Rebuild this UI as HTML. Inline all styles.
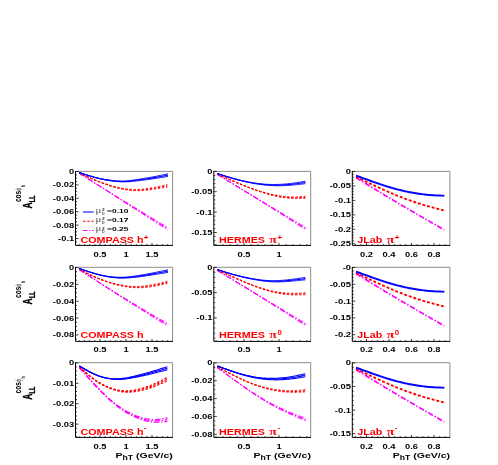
<!DOCTYPE html>
<html lang="en">
<head>
<meta charset="utf-8">
<title>A_LL cos(phi_h) asymmetry vs P_hT</title>
<style>
html,body{margin:0;padding:0;background:#fff;}
body{width:498px;height:465px;overflow:hidden;}
svg{display:block;filter:blur(0.3px);}
</style>
</head>
<body>
<svg width="498" height="465" viewBox="0 0 498 465" font-family='"Liberation Sans", Arial, Helvetica, sans-serif' font-weight="bold">
<rect width="498" height="465" fill="#fff"/>
<g>
<g fill="none" stroke="#ff00ff" stroke-width="1.1" stroke-dasharray="5.5 1.8 1.4 1.8" stroke-linejoin="round">
<path d="M79.02 173.02 L80.52 173.97 L82.02 174.92 L83.53 175.87 L85.03 176.82 L86.54 177.76 L88.04 178.71 L89.55 179.65 L91.05 180.6 L92.55 181.54 L94.06 182.48 L95.56 183.42 L97.07 184.35 L98.57 185.29 L100.08 186.23 L101.58 187.16 L103.09 188.1 L104.59 189.03 L106.09 189.96 L107.6 190.9 L109.1 191.83 L110.61 192.76 L112.11 193.69 L113.62 194.61 L115.12 195.54 L116.62 196.47 L118.13 197.39 L119.63 198.32 L121.14 199.24 L122.64 200.17 L124.15 201.09 L125.65 202.01 L127.15 202.93 L128.66 203.85 L130.16 204.77 L131.67 205.69 L133.17 206.61 L134.68 207.53 L136.18 208.45 L137.68 209.36 L139.19 210.28 L140.69 211.19 L142.2 212.11 L143.7 213.02 L145.21 213.93 L146.71 214.85 L148.21 215.76 L149.72 216.67 L151.22 217.58 L152.73 218.49 L154.23 219.4 L155.74 220.3 L157.24 221.21 L158.75 222.12 L160.25 223.02 L161.75 223.93 L163.26 224.83 L164.76 225.74 L166.27 226.64 L167.77 227.54" stroke-width="0.94"/>
<path d="M79.02 173.02 L80.52 173.97 L82.02 174.93 L83.53 175.88 L85.03 176.84 L86.54 177.79 L88.04 178.74 L89.55 179.7 L91.05 180.65 L92.55 181.6 L94.06 182.55 L95.56 183.5 L97.07 184.46 L98.57 185.41 L100.08 186.36 L101.58 187.31 L103.09 188.26 L104.59 189.21 L106.09 190.16 L107.6 191.11 L109.1 192.06 L110.61 193.01 L112.11 193.95 L113.62 194.9 L115.12 195.85 L116.62 196.8 L118.13 197.74 L119.63 198.69 L121.14 199.64 L122.64 200.58 L124.15 201.53 L125.65 202.48 L127.15 203.42 L128.66 204.37 L130.16 205.31 L131.67 206.26 L133.17 207.2 L134.68 208.15 L136.18 209.09 L137.68 210.03 L139.19 210.98 L140.69 211.92 L142.2 212.86 L143.7 213.8 L145.21 214.75 L146.71 215.69 L148.21 216.63 L149.72 217.57 L151.22 218.51 L152.73 219.45 L154.23 220.39 L155.74 221.33 L157.24 222.27 L158.75 223.21 L160.25 224.15 L161.75 225.09 L163.26 226.03 L164.76 226.97 L166.27 227.91 L167.77 228.84" stroke-width="1.1"/>
<path d="M79.02 173.02 L80.52 173.98 L82.02 174.93 L83.53 175.89 L85.03 176.85 L86.54 177.82 L88.04 178.78 L89.55 179.74 L91.05 180.7 L92.55 181.66 L94.06 182.63 L95.56 183.59 L97.07 184.56 L98.57 185.52 L100.08 186.49 L101.58 187.45 L103.09 188.42 L104.59 189.39 L106.09 190.35 L107.6 191.32 L109.1 192.29 L110.61 193.25 L112.11 194.22 L113.62 195.19 L115.12 196.16 L116.62 197.13 L118.13 198.1 L119.63 199.06 L121.14 200.03 L122.64 201 L124.15 201.97 L125.65 202.94 L127.15 203.91 L128.66 204.88 L130.16 205.85 L131.67 206.82 L133.17 207.79 L134.68 208.76 L136.18 209.73 L137.68 210.7 L139.19 211.67 L140.69 212.65 L142.2 213.62 L143.7 214.59 L145.21 215.56 L146.71 216.53 L148.21 217.5 L149.72 218.47 L151.22 219.45 L152.73 220.42 L154.23 221.39 L155.74 222.36 L157.24 223.34 L158.75 224.31 L160.25 225.28 L161.75 226.25 L163.26 227.23 L164.76 228.2 L166.27 229.17 L167.77 230.14" stroke-width="0.94"/>
</g>
<g fill="none" stroke="#ff0000" stroke-width="1.1" stroke-dasharray="2.4 1.7" stroke-linejoin="round">
<path d="M79.02 173.02 L80.51 173.69 L82.01 174.36 L83.51 175.03 L85.01 175.69 L86.5 176.34 L88 176.99 L89.5 177.64 L91 178.28 L92.49 178.91 L93.99 179.53 L95.49 180.13 L96.99 180.73 L98.48 181.32 L99.98 181.89 L101.48 182.46 L102.98 183 L104.47 183.53 L105.97 184.05 L107.47 184.54 L108.97 185.02 L110.46 185.48 L111.96 185.92 L113.46 186.34 L114.96 186.74 L116.45 187.11 L117.95 187.46 L119.45 187.79 L120.95 188.09 L122.44 188.36 L123.94 188.61 L125.44 188.83 L126.94 189.02 L128.43 189.18 L129.93 189.31 L131.43 189.41 L132.93 189.47 L134.42 189.5 L135.92 189.5 L137.42 189.46 L138.92 189.39 L140.41 189.29 L141.91 189.17 L143.41 189.01 L144.91 188.84 L146.4 188.64 L147.9 188.42 L149.4 188.19 L150.9 187.94 L152.39 187.68 L153.89 187.4 L155.39 187.12 L156.89 186.83 L158.38 186.53 L159.88 186.23 L161.38 185.92 L162.88 185.61 L164.37 185.3 L165.87 184.99 L167.37 184.67" stroke-width="0.88"/>
<path d="M79.02 173.02 L80.51 173.69 L82.01 174.37 L83.51 175.04 L85.01 175.7 L86.5 176.37 L88 177.03 L89.5 177.68 L91 178.33 L92.49 178.96 L93.99 179.6 L95.49 180.22 L96.99 180.83 L98.48 181.43 L99.98 182.01 L101.48 182.59 L102.98 183.15 L104.47 183.7 L105.97 184.23 L107.47 184.74 L108.97 185.23 L110.46 185.71 L111.96 186.17 L113.46 186.61 L114.96 187.02 L116.45 187.41 L117.95 187.79 L119.45 188.13 L120.95 188.45 L122.44 188.75 L123.94 189.02 L125.44 189.26 L126.94 189.47 L128.43 189.65 L129.93 189.81 L131.43 189.93 L132.93 190.02 L134.42 190.07 L135.92 190.09 L137.42 190.08 L138.92 190.04 L140.41 189.96 L141.91 189.86 L143.41 189.74 L144.91 189.59 L146.4 189.42 L147.9 189.23 L149.4 189.02 L150.9 188.8 L152.39 188.57 L153.89 188.32 L155.39 188.07 L156.89 187.81 L158.38 187.54 L159.88 187.27 L161.38 187 L162.88 186.72 L164.37 186.44 L165.87 186.15 L167.37 185.87" stroke-width="1.1"/>
<path d="M79.02 173.02 L80.51 173.69 L82.01 174.37 L83.51 175.05 L85.01 175.72 L86.5 176.39 L88 177.06 L89.5 177.72 L91 178.37 L92.49 179.02 L93.99 179.67 L95.49 180.3 L96.99 180.92 L98.48 181.53 L99.98 182.14 L101.48 182.72 L102.98 183.3 L104.47 183.86 L105.97 184.41 L107.47 184.93 L108.97 185.45 L110.46 185.94 L111.96 186.42 L113.46 186.87 L114.96 187.31 L116.45 187.72 L117.95 188.11 L119.45 188.48 L120.95 188.82 L122.44 189.13 L123.94 189.42 L125.44 189.69 L126.94 189.92 L128.43 190.13 L129.93 190.3 L131.43 190.45 L132.93 190.56 L134.42 190.64 L135.92 190.69 L137.42 190.7 L138.92 190.68 L140.41 190.64 L141.91 190.56 L143.41 190.46 L144.91 190.34 L146.4 190.2 L147.9 190.03 L149.4 189.86 L150.9 189.66 L152.39 189.46 L153.89 189.24 L155.39 189.02 L156.89 188.79 L158.38 188.55 L159.88 188.31 L161.38 188.07 L162.88 187.82 L164.37 187.57 L165.87 187.32 L167.37 187.07" stroke-width="0.88"/>
</g>
<g fill="none" stroke="#0000ff" stroke-width="1.1" stroke-linejoin="round">
<path d="M79.02 172.42 L80.52 172.92 L82.03 173.42 L83.54 173.92 L85.05 174.41 L86.55 174.89 L88.06 175.36 L89.57 175.81 L91.08 176.26 L92.59 176.68 L94.09 177.1 L95.6 177.49 L97.11 177.86 L98.62 178.21 L100.12 178.54 L101.63 178.85 L103.14 179.14 L104.65 179.41 L106.16 179.66 L107.66 179.89 L109.17 180.1 L110.68 180.29 L112.19 180.46 L113.69 180.62 L115.2 180.75 L116.71 180.86 L118.22 180.95 L119.72 181.01 L121.23 181.04 L122.74 181.04 L124.25 181 L125.76 180.91 L127.26 180.8 L128.77 180.66 L130.28 180.49 L131.79 180.3 L133.29 180.1 L134.8 179.89 L136.31 179.67 L137.82 179.44 L139.33 179.21 L140.83 178.98 L142.34 178.73 L143.85 178.49 L145.36 178.23 L146.86 177.97 L148.37 177.71 L149.88 177.44 L151.39 177.17 L152.89 176.88 L154.4 176.6 L155.91 176.31 L157.42 176.01 L158.93 175.71 L160.43 175.4 L161.94 175.09 L163.45 174.78 L164.96 174.46 L166.46 174.15 L167.97 173.83" stroke-width="0.94"/>
<path d="M79.02 172.42 L80.52 172.92 L82.03 173.43 L83.54 173.93 L85.05 174.42 L86.55 174.91 L88.06 175.39 L89.57 175.86 L91.08 176.31 L92.59 176.75 L94.09 177.17 L95.6 177.58 L97.11 177.96 L98.62 178.32 L100.12 178.67 L101.63 178.99 L103.14 179.3 L104.65 179.59 L106.16 179.85 L107.66 180.1 L109.17 180.33 L110.68 180.54 L112.19 180.73 L113.69 180.9 L115.2 181.06 L116.71 181.19 L118.22 181.3 L119.72 181.38 L121.23 181.44 L122.74 181.46 L124.25 181.44 L125.76 181.38 L127.26 181.29 L128.77 181.17 L130.28 181.03 L131.79 180.87 L133.29 180.69 L134.8 180.51 L136.31 180.31 L137.82 180.11 L139.33 179.91 L140.83 179.7 L142.34 179.49 L143.85 179.27 L145.36 179.05 L146.86 178.82 L148.37 178.58 L149.88 178.34 L151.39 178.1 L152.89 177.85 L154.4 177.6 L155.91 177.34 L157.42 177.07 L158.93 176.8 L160.43 176.53 L161.94 176.25 L163.45 175.97 L164.96 175.69 L166.46 175.41 L167.97 175.13" stroke-width="1.1"/>
<path d="M79.02 172.42 L80.52 172.93 L82.03 173.43 L83.54 173.94 L85.05 174.44 L86.55 174.94 L88.06 175.42 L89.57 175.9 L91.08 176.36 L92.59 176.81 L94.09 177.25 L95.6 177.66 L97.11 178.06 L98.62 178.44 L100.12 178.8 L101.63 179.14 L103.14 179.46 L104.65 179.76 L106.16 180.05 L107.66 180.31 L109.17 180.56 L110.68 180.79 L112.19 181 L113.69 181.19 L115.2 181.36 L116.71 181.52 L118.22 181.65 L119.72 181.76 L121.23 181.83 L122.74 181.87 L124.25 181.88 L125.76 181.84 L127.26 181.78 L128.77 181.68 L130.28 181.57 L131.79 181.43 L133.29 181.28 L134.8 181.12 L136.31 180.96 L137.82 180.78 L139.33 180.61 L140.83 180.43 L142.34 180.24 L143.85 180.05 L145.36 179.86 L146.86 179.66 L148.37 179.46 L149.88 179.25 L151.39 179.03 L152.89 178.82 L154.4 178.59 L155.91 178.37 L157.42 178.13 L158.93 177.9 L160.43 177.66 L161.94 177.41 L163.45 177.17 L164.96 176.92 L166.46 176.68 L167.97 176.43" stroke-width="0.94"/>
</g>
<path d="M75.5 171.4 H172.6 V245.4" fill="none" stroke="#808080" stroke-width="0.9"/>
<path d="M75.5 171 V245.4 H173" fill="none" stroke="#000" stroke-width="1.0"/>
<path d="M75.5 171.5h3M75.5 174.85h1.5M75.5 178.2h1.5M75.5 181.55h1.5M75.5 184.9h3M75.5 188.25h1.5M75.5 191.6h1.5M75.5 194.95h1.5M75.5 198.3h3M75.5 201.65h1.5M75.5 205h1.5M75.5 208.35h1.5M75.5 211.7h3M75.5 215.05h1.5M75.5 218.4h1.5M75.5 221.75h1.5M75.5 225.1h3M75.5 228.45h1.5M75.5 231.8h1.5M75.5 235.15h1.5M75.5 238.5h3M75.5 241.85h1.5M79.2 245.4v-1.2M84.4 245.4v-1.2M89.6 245.4v-1.2M94.8 245.4v-1.2M100 245.4v-2.4M105.2 245.4v-1.2M110.4 245.4v-1.2M115.6 245.4v-1.2M120.8 245.4v-1.2M126 245.4v-2.4M131.2 245.4v-1.2M136.4 245.4v-1.2M141.6 245.4v-1.2M146.8 245.4v-1.2M152 245.4v-2.4M157.2 245.4v-1.2M162.4 245.4v-1.2M167.6 245.4v-1.2" stroke="#000" stroke-width="0.75" fill="none"/>
<text transform="translate(74.2 174) scale(1.285 1)" font-size="7.3" text-anchor="end" fill="#000">0</text>
<text transform="translate(74.2 187.4) scale(1.285 1)" font-size="7.3" text-anchor="end" fill="#000">-0.02</text>
<text transform="translate(74.2 200.8) scale(1.285 1)" font-size="7.3" text-anchor="end" fill="#000">-0.04</text>
<text transform="translate(74.2 214.2) scale(1.285 1)" font-size="7.3" text-anchor="end" fill="#000">-0.06</text>
<text transform="translate(74.2 227.6) scale(1.285 1)" font-size="7.3" text-anchor="end" fill="#000">-0.08</text>
<text transform="translate(74.2 241) scale(1.285 1)" font-size="7.3" text-anchor="end" fill="#000">-0.1</text>
<text transform="translate(100 256.9) scale(1.285 1)" font-size="7.3" text-anchor="middle" fill="#000">0.5</text>
<text transform="translate(126 256.9) scale(1.285 1)" font-size="7.3" text-anchor="middle" fill="#000">1</text>
<text transform="translate(152 256.9) scale(1.285 1)" font-size="7.3" text-anchor="middle" fill="#000">1.5</text>
<text transform="translate(80.5 242.7) scale(1.25 1)" font-size="8.6" text-anchor="start" fill="#ff0000">COMPASS h<tspan dy="-3.0" dx="0.2" font-size="6.4">+</tspan></text>
</g>
<g>
<g fill="none" stroke="#ff00ff" stroke-width="1.1" stroke-dasharray="5.5 1.8 1.4 1.8" stroke-linejoin="round">
<path d="M217.42 174.43 L218.92 175.33 L220.41 176.24 L221.91 177.14 L223.41 178.05 L224.91 178.95 L226.4 179.85 L227.9 180.76 L229.4 181.66 L230.9 182.56 L232.39 183.46 L233.89 184.36 L235.39 185.27 L236.89 186.17 L238.38 187.07 L239.88 187.97 L241.38 188.87 L242.88 189.77 L244.37 190.67 L245.87 191.57 L247.37 192.47 L248.87 193.37 L250.36 194.27 L251.86 195.17 L253.36 196.07 L254.86 196.97 L256.35 197.87 L257.85 198.77 L259.35 199.67 L260.85 200.57 L262.34 201.47 L263.84 202.36 L265.34 203.26 L266.84 204.16 L268.33 205.06 L269.83 205.96 L271.33 206.86 L272.83 207.76 L274.32 208.66 L275.82 209.56 L277.32 210.46 L278.82 211.36 L280.31 212.25 L281.81 213.15 L283.31 214.05 L284.81 214.95 L286.3 215.85 L287.8 216.75 L289.3 217.65 L290.8 218.55 L292.29 219.45 L293.79 220.35 L295.29 221.25 L296.79 222.15 L298.28 223.05 L299.78 223.94 L301.28 224.84 L302.78 225.74 L304.27 226.64 L305.77 227.54" stroke-width="0.88"/>
<path d="M217.42 174.43 L218.92 175.33 L220.41 176.24 L221.91 177.15 L223.41 178.06 L224.91 178.97 L226.4 179.88 L227.9 180.79 L229.4 181.7 L230.9 182.62 L232.39 183.53 L233.89 184.44 L235.39 185.35 L236.89 186.27 L238.38 187.18 L239.88 188.09 L241.38 189.01 L242.88 189.92 L244.37 190.83 L245.87 191.75 L247.37 192.67 L248.87 193.58 L250.36 194.5 L251.86 195.41 L253.36 196.33 L254.86 197.25 L256.35 198.16 L257.85 199.08 L259.35 200 L260.85 200.92 L262.34 201.84 L263.84 202.76 L265.34 203.68 L266.84 204.6 L268.33 205.52 L269.83 206.44 L271.33 207.36 L272.83 208.28 L274.32 209.2 L275.82 210.12 L277.32 211.05 L278.82 211.97 L280.31 212.89 L281.81 213.82 L283.31 214.74 L284.81 215.67 L286.3 216.59 L287.8 217.51 L289.3 218.44 L290.8 219.37 L292.29 220.29 L293.79 221.22 L295.29 222.15 L296.79 223.07 L298.28 224 L299.78 224.93 L301.28 225.86 L302.78 226.78 L304.27 227.71 L305.77 228.64" stroke-width="1.1"/>
<path d="M217.42 174.43 L218.92 175.34 L220.41 176.25 L221.91 177.16 L223.41 178.08 L224.91 178.99 L226.4 179.91 L227.9 180.83 L229.4 181.75 L230.9 182.67 L232.39 183.59 L233.89 184.51 L235.39 185.44 L236.89 186.36 L238.38 187.29 L239.88 188.21 L241.38 189.14 L242.88 190.07 L244.37 191 L245.87 191.93 L247.37 192.86 L248.87 193.79 L250.36 194.72 L251.86 195.66 L253.36 196.59 L254.86 197.53 L256.35 198.46 L257.85 199.4 L259.35 200.33 L260.85 201.27 L262.34 202.21 L263.84 203.15 L265.34 204.09 L266.84 205.03 L268.33 205.97 L269.83 206.92 L271.33 207.86 L272.83 208.8 L274.32 209.75 L275.82 210.69 L277.32 211.64 L278.82 212.58 L280.31 213.53 L281.81 214.48 L283.31 215.43 L284.81 216.38 L286.3 217.33 L287.8 218.28 L289.3 219.23 L290.8 220.18 L292.29 221.14 L293.79 222.09 L295.29 223.04 L296.79 224 L298.28 224.95 L299.78 225.91 L301.28 226.87 L302.78 227.83 L304.27 228.78 L305.77 229.74" stroke-width="0.88"/>
</g>
<g fill="none" stroke="#ff0000" stroke-width="1.1" stroke-dasharray="2.4 1.7" stroke-linejoin="round">
<path d="M217.42 174.02 L218.91 174.7 L220.4 175.38 L221.89 176.05 L223.38 176.72 L224.87 177.39 L226.36 178.06 L227.85 178.72 L229.34 179.37 L230.83 180.02 L232.32 180.66 L233.82 181.3 L235.31 181.93 L236.8 182.56 L238.29 183.17 L239.78 183.78 L241.27 184.38 L242.76 184.97 L244.25 185.56 L245.74 186.13 L247.23 186.7 L248.72 187.25 L250.21 187.8 L251.7 188.33 L253.19 188.86 L254.69 189.37 L256.18 189.88 L257.67 190.37 L259.16 190.85 L260.65 191.31 L262.14 191.76 L263.63 192.2 L265.12 192.62 L266.61 193.03 L268.1 193.41 L269.59 193.79 L271.08 194.14 L272.57 194.48 L274.06 194.8 L275.56 195.1 L277.05 195.38 L278.54 195.64 L280.03 195.87 L281.52 196.09 L283.01 196.28 L284.5 196.45 L285.99 196.59 L287.48 196.71 L288.97 196.81 L290.46 196.88 L291.95 196.92 L293.44 196.93 L294.93 196.91 L296.43 196.87 L297.92 196.81 L299.41 196.74 L300.9 196.64 L302.39 196.54 L303.88 196.43 L305.37 196.32" stroke-width="0.88"/>
<path d="M217.42 174.02 L218.91 174.7 L220.4 175.38 L221.89 176.06 L223.38 176.74 L224.87 177.41 L226.36 178.08 L227.85 178.75 L229.34 179.41 L230.83 180.07 L232.32 180.72 L233.82 181.37 L235.31 182.01 L236.8 182.65 L238.29 183.27 L239.78 183.89 L241.27 184.51 L242.76 185.11 L244.25 185.71 L245.74 186.3 L247.23 186.87 L248.72 187.44 L250.21 188.01 L251.7 188.56 L253.19 189.1 L254.69 189.63 L256.18 190.15 L257.67 190.65 L259.16 191.15 L260.65 191.63 L262.14 192.1 L263.63 192.55 L265.12 192.99 L266.61 193.42 L268.1 193.83 L269.59 194.22 L271.08 194.6 L272.57 194.95 L274.06 195.29 L275.56 195.61 L277.05 195.91 L278.54 196.19 L280.03 196.45 L281.52 196.69 L283.01 196.91 L284.5 197.1 L285.99 197.27 L287.48 197.41 L288.97 197.53 L290.46 197.62 L291.95 197.68 L293.44 197.72 L294.93 197.73 L296.43 197.72 L297.92 197.68 L299.41 197.63 L300.9 197.56 L302.39 197.49 L303.88 197.4 L305.37 197.32" stroke-width="1.1"/>
<path d="M217.42 174.02 L218.91 174.71 L220.4 175.39 L221.89 176.07 L223.38 176.75 L224.87 177.43 L226.36 178.11 L227.85 178.78 L229.34 179.45 L230.83 180.12 L232.32 180.78 L233.82 181.44 L235.31 182.09 L236.8 182.74 L238.29 183.37 L239.78 184.01 L241.27 184.63 L242.76 185.25 L244.25 185.86 L245.74 186.46 L247.23 187.05 L248.72 187.64 L250.21 188.21 L251.7 188.78 L253.19 189.33 L254.69 189.88 L256.18 190.42 L257.67 190.94 L259.16 191.45 L260.65 191.95 L262.14 192.44 L263.63 192.91 L265.12 193.37 L266.61 193.81 L268.1 194.24 L269.59 194.65 L271.08 195.05 L272.57 195.43 L274.06 195.79 L275.56 196.13 L277.05 196.45 L278.54 196.75 L280.03 197.03 L281.52 197.29 L283.01 197.53 L284.5 197.75 L285.99 197.94 L287.48 198.1 L288.97 198.25 L290.46 198.36 L291.95 198.45 L293.44 198.51 L294.93 198.55 L296.43 198.56 L297.92 198.55 L299.41 198.52 L300.9 198.48 L302.39 198.43 L303.88 198.38 L305.37 198.32" stroke-width="0.88"/>
</g>
<g fill="none" stroke="#0000ff" stroke-width="1.1" stroke-linejoin="round">
<path d="M217.42 173.62 L218.91 174.1 L220.4 174.57 L221.89 175.04 L223.38 175.5 L224.87 175.96 L226.36 176.42 L227.85 176.86 L229.34 177.3 L230.83 177.74 L232.32 178.16 L233.82 178.57 L235.31 178.97 L236.8 179.35 L238.29 179.73 L239.78 180.09 L241.27 180.45 L242.76 180.78 L244.25 181.11 L245.74 181.42 L247.23 181.72 L248.72 182.01 L250.21 182.28 L251.7 182.54 L253.19 182.78 L254.69 183.01 L256.18 183.22 L257.67 183.42 L259.16 183.6 L260.65 183.77 L262.14 183.92 L263.63 184.05 L265.12 184.17 L266.61 184.27 L268.1 184.35 L269.59 184.41 L271.08 184.46 L272.57 184.48 L274.06 184.49 L275.56 184.48 L277.05 184.45 L278.54 184.41 L280.03 184.34 L281.52 184.26 L283.01 184.17 L284.5 184.06 L285.99 183.93 L287.48 183.79 L288.97 183.64 L290.46 183.47 L291.95 183.29 L293.44 183.1 L294.93 182.9 L296.43 182.68 L297.92 182.46 L299.41 182.23 L300.9 181.99 L302.39 181.75 L303.88 181.5 L305.37 181.26" stroke-width="0.88"/>
<path d="M217.42 173.62 L218.91 174.1 L220.4 174.58 L221.89 175.05 L223.38 175.52 L224.87 175.99 L226.36 176.45 L227.85 176.9 L229.34 177.35 L230.83 177.79 L232.32 178.23 L233.82 178.65 L235.31 179.06 L236.8 179.46 L238.29 179.85 L239.78 180.23 L241.27 180.59 L242.76 180.95 L244.25 181.29 L245.74 181.62 L247.23 181.94 L248.72 182.24 L250.21 182.53 L251.7 182.8 L253.19 183.07 L254.69 183.31 L256.18 183.55 L257.67 183.76 L259.16 183.97 L260.65 184.15 L262.14 184.32 L263.63 184.48 L265.12 184.62 L266.61 184.74 L268.1 184.84 L269.59 184.93 L271.08 185 L272.57 185.05 L274.06 185.08 L275.56 185.1 L277.05 185.1 L278.54 185.08 L280.03 185.04 L281.52 184.99 L283.01 184.92 L284.5 184.84 L285.99 184.74 L287.48 184.63 L288.97 184.5 L290.46 184.36 L291.95 184.21 L293.44 184.05 L294.93 183.88 L296.43 183.69 L297.92 183.5 L299.41 183.3 L300.9 183.09 L302.39 182.88 L303.88 182.67 L305.37 182.46" stroke-width="1.1"/>
<path d="M217.42 173.62 L218.91 174.1 L220.4 174.58 L221.89 175.06 L223.38 175.54 L224.87 176.01 L226.36 176.48 L227.85 176.94 L229.34 177.4 L230.83 177.85 L232.32 178.3 L233.82 178.73 L235.31 179.15 L236.8 179.57 L238.29 179.97 L239.78 180.36 L241.27 180.74 L242.76 181.11 L244.25 181.47 L245.74 181.82 L247.23 182.15 L248.72 182.47 L250.21 182.78 L251.7 183.07 L253.19 183.35 L254.69 183.62 L256.18 183.87 L257.67 184.11 L259.16 184.33 L260.65 184.54 L262.14 184.73 L263.63 184.91 L265.12 185.07 L266.61 185.21 L268.1 185.34 L269.59 185.45 L271.08 185.54 L272.57 185.62 L274.06 185.68 L275.56 185.72 L277.05 185.74 L278.54 185.75 L280.03 185.74 L281.52 185.71 L283.01 185.67 L284.5 185.61 L285.99 185.55 L287.48 185.46 L288.97 185.36 L290.46 185.26 L291.95 185.13 L293.44 185 L294.93 184.86 L296.43 184.7 L297.92 184.54 L299.41 184.37 L300.9 184.2 L302.39 184.02 L303.88 183.84 L305.37 183.66" stroke-width="0.88"/>
</g>
<path d="M213.8 171.4 H310.7 V245.4" fill="none" stroke="#808080" stroke-width="0.9"/>
<path d="M213.8 171 V245.4 H311.1" fill="none" stroke="#000" stroke-width="1.0"/>
<path d="M213.8 171.3h3M213.8 175.38h1.5M213.8 179.46h1.5M213.8 183.54h1.5M213.8 187.62h1.5M213.8 191.7h3M213.8 195.78h1.5M213.8 199.86h1.5M213.8 203.94h1.5M213.8 208.02h1.5M213.8 212.1h3M213.8 216.18h1.5M213.8 220.26h1.5M213.8 224.34h1.5M213.8 228.42h1.5M213.8 232.5h3M213.8 236.58h1.5M213.8 240.66h1.5M213.8 244.74h1.5M216 245.4v-1.2M223 245.4v-1.2M230 245.4v-1.2M237 245.4v-1.2M244 245.4v-2.4M251 245.4v-1.2M258 245.4v-1.2M265 245.4v-1.2M272 245.4v-1.2M279 245.4v-2.4M286 245.4v-1.2M293 245.4v-1.2M300 245.4v-1.2M307 245.4v-1.2" stroke="#000" stroke-width="0.75" fill="none"/>
<text transform="translate(212.5 173.8) scale(1.285 1)" font-size="7.3" text-anchor="end" fill="#000">0</text>
<text transform="translate(212.5 194.2) scale(1.285 1)" font-size="7.3" text-anchor="end" fill="#000">-0.05</text>
<text transform="translate(212.5 214.6) scale(1.285 1)" font-size="7.3" text-anchor="end" fill="#000">-0.1</text>
<text transform="translate(212.5 235) scale(1.285 1)" font-size="7.3" text-anchor="end" fill="#000">-0.15</text>
<text transform="translate(244 256.9) scale(1.285 1)" font-size="7.3" text-anchor="middle" fill="#000">0.5</text>
<text transform="translate(279 256.9) scale(1.285 1)" font-size="7.3" text-anchor="middle" fill="#000">1</text>
<text transform="translate(219.1 242.7) scale(1.25 1)" font-size="8.6" text-anchor="start" fill="#ff0000">HERMES <tspan font-family='"Liberation Serif", "DejaVu Serif", serif' font-size="11" dx="1.1">π</tspan><tspan dy="-3.0" dx="0.5" font-size="6.4">+</tspan></text>
</g>
<g>
<g fill="none" stroke="#ff00ff" stroke-width="1.1" stroke-dasharray="5.5 1.8 1.4 1.8" stroke-linejoin="round">
<path d="M356.02 177.64 L357.52 178.56 L359.02 179.49 L360.51 180.41 L362.01 181.33 L363.51 182.25 L365.01 183.16 L366.5 184.08 L368 185 L369.5 185.91 L371 186.82 L372.49 187.73 L373.99 188.64 L375.49 189.55 L376.99 190.46 L378.48 191.36 L379.98 192.27 L381.48 193.17 L382.98 194.07 L384.47 194.97 L385.97 195.87 L387.47 196.77 L388.97 197.66 L390.46 198.56 L391.96 199.45 L393.46 200.34 L394.96 201.23 L396.45 202.12 L397.95 203.01 L399.45 203.89 L400.95 204.78 L402.44 205.66 L403.94 206.54 L405.44 207.43 L406.94 208.3 L408.43 209.18 L409.93 210.06 L411.43 210.93 L412.93 211.81 L414.42 212.68 L415.92 213.55 L417.42 214.42 L418.92 215.29 L420.41 216.16 L421.91 217.02 L423.41 217.89 L424.91 218.75 L426.4 219.61 L427.9 220.47 L429.4 221.33 L430.9 222.19 L432.39 223.05 L433.89 223.9 L435.39 224.75 L436.89 225.61 L438.38 226.46 L439.88 227.31 L441.38 228.16 L442.88 229 L444.37 229.85" stroke-width="1.7000000000000002"/>
</g>
<g fill="none" stroke="#ff0000" stroke-width="1.1" stroke-dasharray="2.9 1.9" stroke-linejoin="round">
<path d="M356.02 177.04 L357.52 177.74 L359.02 178.44 L360.51 179.14 L362.01 179.84 L363.51 180.54 L365.01 181.24 L366.5 181.93 L368 182.63 L369.5 183.33 L371 184.02 L372.49 184.72 L373.99 185.41 L375.49 186.1 L376.99 186.79 L378.48 187.48 L379.98 188.16 L381.48 188.84 L382.98 189.51 L384.47 190.18 L385.97 190.85 L387.47 191.5 L388.97 192.16 L390.46 192.8 L391.96 193.44 L393.46 194.07 L394.96 194.7 L396.45 195.31 L397.95 195.92 L399.45 196.52 L400.95 197.11 L402.44 197.69 L403.94 198.27 L405.44 198.83 L406.94 199.39 L408.43 199.93 L409.93 200.47 L411.43 201 L412.93 201.51 L414.42 202.02 L415.92 202.52 L417.42 203.01 L418.92 203.49 L420.41 203.96 L421.91 204.43 L423.41 204.88 L424.91 205.33 L426.4 205.77 L427.9 206.2 L429.4 206.62 L430.9 207.04 L432.39 207.45 L433.89 207.85 L435.39 208.25 L436.89 208.65 L438.38 209.04 L439.88 209.42 L441.38 209.81 L442.88 210.19 L444.37 210.57" stroke-width="1.9000000000000001"/>
</g>
<g fill="none" stroke="#0000ff" stroke-width="1.1" stroke-linejoin="round">
<path d="M356.02 175.63 L357.52 176.17 L359.02 176.72 L360.51 177.26 L362.01 177.8 L363.51 178.34 L365.01 178.88 L366.5 179.42 L368 179.96 L369.5 180.49 L371 181.02 L372.49 181.55 L373.99 182.08 L375.49 182.6 L376.99 183.12 L378.48 183.63 L379.98 184.14 L381.48 184.64 L382.98 185.13 L384.47 185.62 L385.97 186.1 L387.47 186.57 L388.97 187.03 L390.46 187.47 L391.96 187.91 L393.46 188.34 L394.96 188.75 L396.45 189.15 L397.95 189.55 L399.45 189.92 L400.95 190.29 L402.44 190.65 L403.94 190.99 L405.44 191.32 L406.94 191.64 L408.43 191.95 L409.93 192.25 L411.43 192.53 L412.93 192.8 L414.42 193.06 L415.92 193.31 L417.42 193.54 L418.92 193.77 L420.41 193.98 L421.91 194.17 L423.41 194.35 L424.91 194.53 L426.4 194.68 L427.9 194.83 L429.4 194.96 L430.9 195.08 L432.39 195.18 L433.89 195.28 L435.39 195.36 L436.89 195.43 L438.38 195.5 L439.88 195.55 L441.38 195.61 L442.88 195.66 L444.37 195.71" stroke-width="1.9000000000000001"/>
</g>
<path d="M352.3 171.4 H449.9 V245.4" fill="none" stroke="#808080" stroke-width="0.9"/>
<path d="M352.3 171 V245.4 H450.3" fill="none" stroke="#000" stroke-width="1.0"/>
<path d="M352.3 171.5h3M352.3 174.39h1.5M352.3 177.28h1.5M352.3 180.17h1.5M352.3 183.06h1.5M352.3 185.95h3M352.3 188.84h1.5M352.3 191.73h1.5M352.3 194.62h1.5M352.3 197.51h1.5M352.3 200.4h3M352.3 203.29h1.5M352.3 206.18h1.5M352.3 209.07h1.5M352.3 211.96h1.5M352.3 214.85h3M352.3 217.74h1.5M352.3 220.63h1.5M352.3 223.52h1.5M352.3 226.41h1.5M352.3 229.3h3M352.3 232.19h1.5M352.3 235.08h1.5M352.3 237.97h1.5M352.3 240.86h1.5M352.3 243.75h3M355.25 245.4v-1.2M360.88 245.4v-1.2M366.5 245.4v-2.4M372.12 245.4v-1.2M377.75 245.4v-1.2M383.38 245.4v-1.2M389 245.4v-2.4M394.62 245.4v-1.2M400.25 245.4v-1.2M405.88 245.4v-1.2M411.5 245.4v-2.4M417.12 245.4v-1.2M422.75 245.4v-1.2M428.38 245.4v-1.2M434 245.4v-2.4M439.62 245.4v-1.2M445.25 245.4v-1.2" stroke="#000" stroke-width="0.75" fill="none"/>
<text transform="translate(351 174) scale(1.285 1)" font-size="7.3" text-anchor="end" fill="#000">0</text>
<text transform="translate(351 188.45) scale(1.285 1)" font-size="7.3" text-anchor="end" fill="#000">-0.05</text>
<text transform="translate(351 202.9) scale(1.285 1)" font-size="7.3" text-anchor="end" fill="#000">-0.1</text>
<text transform="translate(351 217.35) scale(1.285 1)" font-size="7.3" text-anchor="end" fill="#000">-0.15</text>
<text transform="translate(351 231.8) scale(1.285 1)" font-size="7.3" text-anchor="end" fill="#000">-0.2</text>
<text transform="translate(351 246.25) scale(1.285 1)" font-size="7.3" text-anchor="end" fill="#000">-0.25</text>
<text transform="translate(366.5 256.9) scale(1.285 1)" font-size="7.3" text-anchor="middle" fill="#000">0.2</text>
<text transform="translate(389 256.9) scale(1.285 1)" font-size="7.3" text-anchor="middle" fill="#000">0.4</text>
<text transform="translate(411.5 256.9) scale(1.285 1)" font-size="7.3" text-anchor="middle" fill="#000">0.6</text>
<text transform="translate(434 256.9) scale(1.285 1)" font-size="7.3" text-anchor="middle" fill="#000">0.8</text>
<text transform="translate(357.3 242.7) scale(1.25 1)" font-size="8.6" text-anchor="start" fill="#ff0000">JLab <tspan font-family='"Liberation Serif", "DejaVu Serif", serif' font-size="11" dx="1.1">π</tspan><tspan dy="-3.0" dx="0.5" font-size="6.4">+</tspan></text>
</g>
<g transform="translate(31.7 208.5) scale(1.5 1) rotate(-90)" fill="#000" stroke="#000" stroke-width="0">
<text x="0" y="0" font-size="8.5" stroke-width="0.25">A</text>
<text x="6.3" y="2.2" font-size="5.6" stroke-width="0.15">LL</text>
<text x="6.4" y="-6.9" font-size="6.6">cos<tspan font-size="5.6" font-family='"Liberation Serif", "DejaVu Serif", serif' font-weight="normal" fill="#222">ϕ</tspan></text>
<text x="21.3" y="-4.7" font-size="3.6" stroke="none">h</text>
</g>
<g>
<g fill="none" stroke="#ff00ff" stroke-width="1.1" stroke-dasharray="5.5 1.8 1.4 1.8" stroke-linejoin="round">
<path d="M79.02 269.42 L80.52 270.41 L82.02 271.39 L83.53 272.37 L85.03 273.35 L86.54 274.32 L88.04 275.29 L89.55 276.26 L91.05 277.22 L92.55 278.19 L94.06 279.15 L95.56 280.11 L97.07 281.06 L98.57 282.02 L100.08 282.97 L101.58 283.92 L103.09 284.87 L104.59 285.81 L106.09 286.75 L107.6 287.69 L109.1 288.63 L110.61 289.57 L112.11 290.5 L113.62 291.43 L115.12 292.36 L116.62 293.29 L118.13 294.21 L119.63 295.13 L121.14 296.05 L122.64 296.97 L124.15 297.89 L125.65 298.8 L127.15 299.72 L128.66 300.62 L130.16 301.53 L131.67 302.44 L133.17 303.34 L134.68 304.24 L136.18 305.14 L137.68 306.04 L139.19 306.93 L140.69 307.83 L142.2 308.72 L143.7 309.61 L145.21 310.49 L146.71 311.38 L148.21 312.26 L149.72 313.14 L151.22 314.02 L152.73 314.89 L154.23 315.77 L155.74 316.64 L157.24 317.51 L158.75 318.38 L160.25 319.24 L161.75 320.11 L163.26 320.97 L164.76 321.83 L166.27 322.69 L167.77 323.54" stroke-width="0.94"/>
<path d="M79.02 269.42 L80.52 270.41 L82.02 271.4 L83.53 272.38 L85.03 273.36 L86.54 274.34 L88.04 275.32 L89.55 276.3 L91.05 277.28 L92.55 278.25 L94.06 279.22 L95.56 280.2 L97.07 281.17 L98.57 282.13 L100.08 283.1 L101.58 284.06 L103.09 285.03 L104.59 285.99 L106.09 286.95 L107.6 287.9 L109.1 288.86 L110.61 289.82 L112.11 290.77 L113.62 291.72 L115.12 292.67 L116.62 293.62 L118.13 294.56 L119.63 295.51 L121.14 296.45 L122.64 297.39 L124.15 298.33 L125.65 299.27 L127.15 300.2 L128.66 301.14 L130.16 302.07 L131.67 303 L133.17 303.93 L134.68 304.86 L136.18 305.78 L137.68 306.71 L139.19 307.63 L140.69 308.55 L142.2 309.47 L143.7 310.39 L145.21 311.31 L146.71 312.22 L148.21 313.13 L149.72 314.04 L151.22 314.95 L152.73 315.86 L154.23 316.77 L155.74 317.67 L157.24 318.57 L158.75 319.47 L160.25 320.37 L161.75 321.27 L163.26 322.17 L164.76 323.06 L166.27 323.95 L167.77 324.84" stroke-width="1.1"/>
<path d="M79.02 269.42 L80.52 270.41 L82.02 271.4 L83.53 272.39 L85.03 273.38 L86.54 274.37 L88.04 275.36 L89.55 276.34 L91.05 277.33 L92.55 278.32 L94.06 279.3 L95.56 280.28 L97.07 281.27 L98.57 282.25 L100.08 283.23 L101.58 284.21 L103.09 285.19 L104.59 286.17 L106.09 287.14 L107.6 288.12 L109.1 289.09 L110.61 290.06 L112.11 291.04 L113.62 292.01 L115.12 292.98 L116.62 293.95 L118.13 294.91 L119.63 295.88 L121.14 296.84 L122.64 297.81 L124.15 298.77 L125.65 299.73 L127.15 300.69 L128.66 301.65 L130.16 302.61 L131.67 303.57 L133.17 304.52 L134.68 305.47 L136.18 306.43 L137.68 307.38 L139.19 308.33 L140.69 309.28 L142.2 310.23 L143.7 311.17 L145.21 312.12 L146.71 313.06 L148.21 314 L149.72 314.95 L151.22 315.89 L152.73 316.83 L154.23 317.76 L155.74 318.7 L157.24 319.63 L158.75 320.57 L160.25 321.5 L161.75 322.43 L163.26 323.36 L164.76 324.29 L166.27 325.22 L167.77 326.14" stroke-width="0.94"/>
</g>
<g fill="none" stroke="#ff0000" stroke-width="1.1" stroke-dasharray="2.4 1.7" stroke-linejoin="round">
<path d="M79.02 269.02 L80.51 269.81 L82.01 270.59 L83.51 271.37 L85.01 272.14 L86.5 272.9 L88 273.65 L89.5 274.38 L91 275.1 L92.49 275.81 L93.99 276.49 L95.49 277.15 L96.99 277.79 L98.48 278.41 L99.98 279 L101.48 279.57 L102.98 280.12 L104.47 280.65 L105.97 281.15 L107.47 281.64 L108.97 282.1 L110.46 282.54 L111.96 282.96 L113.46 283.36 L114.96 283.74 L116.45 284.1 L117.95 284.44 L119.45 284.76 L120.95 285.05 L122.44 285.32 L123.94 285.56 L125.44 285.78 L126.94 285.97 L128.43 286.14 L129.93 286.27 L131.43 286.38 L132.93 286.46 L134.42 286.5 L135.92 286.51 L137.42 286.49 L138.92 286.44 L140.41 286.36 L141.91 286.25 L143.41 286.11 L144.91 285.94 L146.4 285.75 L147.9 285.53 L149.4 285.29 L150.9 285.03 L152.39 284.75 L153.89 284.44 L155.39 284.12 L156.89 283.78 L158.38 283.42 L159.88 283.05 L161.38 282.67 L162.88 282.28 L164.37 281.88 L165.87 281.48 L167.37 281.07" stroke-width="0.88"/>
<path d="M79.02 269.02 L80.51 269.81 L82.01 270.6 L83.51 271.38 L85.01 272.15 L86.5 272.92 L88 273.68 L89.5 274.42 L91 275.15 L92.49 275.87 L93.99 276.56 L95.49 277.23 L96.99 277.89 L98.48 278.51 L99.98 279.12 L101.48 279.71 L102.98 280.27 L104.47 280.81 L105.97 281.33 L107.47 281.83 L108.97 282.31 L110.46 282.77 L111.96 283.21 L113.46 283.63 L114.96 284.03 L116.45 284.41 L117.95 284.76 L119.45 285.1 L120.95 285.41 L122.44 285.7 L123.94 285.97 L125.44 286.21 L126.94 286.42 L128.43 286.61 L129.93 286.77 L131.43 286.9 L132.93 287 L134.42 287.07 L135.92 287.11 L137.42 287.11 L138.92 287.08 L140.41 287.03 L141.91 286.94 L143.41 286.83 L144.91 286.69 L146.4 286.53 L147.9 286.34 L149.4 286.13 L150.9 285.89 L152.39 285.64 L153.89 285.36 L155.39 285.07 L156.89 284.76 L158.38 284.43 L159.88 284.09 L161.38 283.74 L162.88 283.38 L164.37 283.02 L165.87 282.65 L167.37 282.27" stroke-width="1.1"/>
<path d="M79.02 269.02 L80.51 269.81 L82.01 270.6 L83.51 271.39 L85.01 272.17 L86.5 272.94 L88 273.71 L89.5 274.46 L91 275.2 L92.49 275.92 L93.99 276.63 L95.49 277.32 L96.99 277.98 L98.48 278.62 L99.98 279.24 L101.48 279.84 L102.98 280.42 L104.47 280.98 L105.97 281.51 L107.47 282.03 L108.97 282.53 L110.46 283 L111.96 283.46 L113.46 283.9 L114.96 284.31 L116.45 284.71 L117.95 285.09 L119.45 285.44 L120.95 285.78 L122.44 286.09 L123.94 286.38 L125.44 286.64 L126.94 286.88 L128.43 287.09 L129.93 287.27 L131.43 287.42 L132.93 287.54 L134.42 287.64 L135.92 287.7 L137.42 287.73 L138.92 287.73 L140.41 287.7 L141.91 287.64 L143.41 287.55 L144.91 287.44 L146.4 287.31 L147.9 287.15 L149.4 286.96 L150.9 286.76 L152.39 286.53 L153.89 286.28 L155.39 286.02 L156.89 285.74 L158.38 285.44 L159.88 285.13 L161.38 284.82 L162.88 284.49 L164.37 284.15 L165.87 283.81 L167.37 283.47" stroke-width="0.88"/>
</g>
<g fill="none" stroke="#0000ff" stroke-width="1.1" stroke-linejoin="round">
<path d="M79.02 268.42 L80.52 268.94 L82.03 269.45 L83.54 269.96 L85.05 270.46 L86.55 270.96 L88.06 271.45 L89.57 271.93 L91.08 272.39 L92.59 272.84 L94.09 273.28 L95.6 273.7 L97.11 274.1 L98.62 274.48 L100.12 274.84 L101.63 275.18 L103.14 275.5 L104.65 275.8 L106.16 276.07 L107.66 276.32 L109.17 276.54 L110.68 276.73 L112.19 276.9 L113.69 277.04 L115.2 277.15 L116.71 277.23 L118.22 277.28 L119.72 277.3 L121.23 277.29 L122.74 277.25 L124.25 277.18 L125.76 277.09 L127.26 276.97 L128.77 276.83 L130.28 276.67 L131.79 276.49 L133.29 276.3 L134.8 276.09 L136.31 275.87 L137.82 275.64 L139.33 275.4 L140.83 275.15 L142.34 274.89 L143.85 274.63 L145.36 274.35 L146.86 274.07 L148.37 273.79 L149.88 273.5 L151.39 273.2 L152.89 272.91 L154.4 272.61 L155.91 272.3 L157.42 272 L158.93 271.69 L160.43 271.38 L161.94 271.07 L163.45 270.76 L164.96 270.45 L166.46 270.14 L167.97 269.83" stroke-width="0.94"/>
<path d="M79.02 268.42 L80.52 268.94 L82.03 269.46 L83.54 269.97 L85.05 270.48 L86.55 270.99 L88.06 271.48 L89.57 271.97 L91.08 272.44 L92.59 272.91 L94.09 273.35 L95.6 273.79 L97.11 274.2 L98.62 274.6 L100.12 274.97 L101.63 275.33 L103.14 275.66 L104.65 275.98 L106.16 276.26 L107.66 276.53 L109.17 276.77 L110.68 276.98 L112.19 277.17 L113.69 277.33 L115.2 277.46 L116.71 277.56 L118.22 277.63 L119.72 277.67 L121.23 277.68 L122.74 277.66 L124.25 277.62 L125.76 277.55 L127.26 277.46 L128.77 277.34 L130.28 277.21 L131.79 277.06 L133.29 276.89 L134.8 276.71 L136.31 276.51 L137.82 276.31 L139.33 276.1 L140.83 275.88 L142.34 275.65 L143.85 275.41 L145.36 275.17 L146.86 274.92 L148.37 274.66 L149.88 274.4 L151.39 274.14 L152.89 273.87 L154.4 273.6 L155.91 273.33 L157.42 273.06 L158.93 272.79 L160.43 272.51 L161.94 272.24 L163.45 271.96 L164.96 271.68 L166.46 271.41 L167.97 271.13" stroke-width="1.1"/>
<path d="M79.02 268.42 L80.52 268.94 L82.03 269.46 L83.54 269.98 L85.05 270.5 L86.55 271.01 L88.06 271.52 L89.57 272.01 L91.08 272.5 L92.59 272.97 L94.09 273.43 L95.6 273.87 L97.11 274.3 L98.62 274.71 L100.12 275.1 L101.63 275.47 L103.14 275.82 L104.65 276.15 L106.16 276.46 L107.66 276.74 L109.17 277 L110.68 277.23 L112.19 277.44 L113.69 277.62 L115.2 277.77 L116.71 277.89 L118.22 277.98 L119.72 278.04 L121.23 278.07 L122.74 278.08 L124.25 278.06 L125.76 278.02 L127.26 277.95 L128.77 277.86 L130.28 277.75 L131.79 277.62 L133.29 277.48 L134.8 277.32 L136.31 277.16 L137.82 276.98 L139.33 276.8 L140.83 276.6 L142.34 276.4 L143.85 276.19 L145.36 275.98 L146.86 275.76 L148.37 275.53 L149.88 275.31 L151.39 275.07 L152.89 274.84 L154.4 274.6 L155.91 274.36 L157.42 274.12 L158.93 273.88 L160.43 273.64 L161.94 273.4 L163.45 273.16 L164.96 272.91 L166.46 272.67 L167.97 272.43" stroke-width="0.94"/>
</g>
<path d="M75.5 267.3 H172.6 V341.4" fill="none" stroke="#808080" stroke-width="0.9"/>
<path d="M75.5 266.9 V341.4 H173" fill="none" stroke="#000" stroke-width="1.0"/>
<path d="M75.5 267.5h3M75.5 271.71h1.5M75.5 275.93h1.5M75.5 280.14h1.5M75.5 284.35h3M75.5 288.56h1.5M75.5 292.77h1.5M75.5 296.99h1.5M75.5 301.2h3M75.5 305.41h1.5M75.5 309.62h1.5M75.5 313.84h1.5M75.5 318.05h3M75.5 322.26h1.5M75.5 326.48h1.5M75.5 330.69h1.5M75.5 334.9h3M75.5 339.11h1.5M79.2 341.4v-1.2M84.4 341.4v-1.2M89.6 341.4v-1.2M94.8 341.4v-1.2M100 341.4v-2.4M105.2 341.4v-1.2M110.4 341.4v-1.2M115.6 341.4v-1.2M120.8 341.4v-1.2M126 341.4v-2.4M131.2 341.4v-1.2M136.4 341.4v-1.2M141.6 341.4v-1.2M146.8 341.4v-1.2M152 341.4v-2.4M157.2 341.4v-1.2M162.4 341.4v-1.2M167.6 341.4v-1.2" stroke="#000" stroke-width="0.75" fill="none"/>
<text transform="translate(74.2 270) scale(1.285 1)" font-size="7.3" text-anchor="end" fill="#000">0</text>
<text transform="translate(74.2 286.85) scale(1.285 1)" font-size="7.3" text-anchor="end" fill="#000">-0.02</text>
<text transform="translate(74.2 303.7) scale(1.285 1)" font-size="7.3" text-anchor="end" fill="#000">-0.04</text>
<text transform="translate(74.2 320.55) scale(1.285 1)" font-size="7.3" text-anchor="end" fill="#000">-0.06</text>
<text transform="translate(74.2 337.4) scale(1.285 1)" font-size="7.3" text-anchor="end" fill="#000">-0.08</text>
<text transform="translate(100 352.3) scale(1.285 1)" font-size="7.3" text-anchor="middle" fill="#000">0.5</text>
<text transform="translate(126 352.3) scale(1.285 1)" font-size="7.3" text-anchor="middle" fill="#000">1</text>
<text transform="translate(152 352.3) scale(1.285 1)" font-size="7.3" text-anchor="middle" fill="#000">1.5</text>
<text transform="translate(80.5 337.6) scale(1.25 1)" font-size="8.6" text-anchor="start" fill="#ff0000">COMPASS h</text>
</g>
<g>
<g fill="none" stroke="#ff00ff" stroke-width="1.1" stroke-dasharray="5.5 1.8 1.4 1.8" stroke-linejoin="round">
<path d="M217.42 270.43 L218.92 271.33 L220.41 272.24 L221.91 273.14 L223.41 274.05 L224.91 274.95 L226.4 275.85 L227.9 276.76 L229.4 277.66 L230.9 278.56 L232.39 279.46 L233.89 280.36 L235.39 281.27 L236.89 282.17 L238.38 283.07 L239.88 283.97 L241.38 284.87 L242.88 285.77 L244.37 286.67 L245.87 287.57 L247.37 288.47 L248.87 289.37 L250.36 290.27 L251.86 291.17 L253.36 292.07 L254.86 292.97 L256.35 293.87 L257.85 294.77 L259.35 295.67 L260.85 296.57 L262.34 297.47 L263.84 298.36 L265.34 299.26 L266.84 300.16 L268.33 301.06 L269.83 301.96 L271.33 302.86 L272.83 303.76 L274.32 304.66 L275.82 305.56 L277.32 306.46 L278.82 307.36 L280.31 308.25 L281.81 309.15 L283.31 310.05 L284.81 310.95 L286.3 311.85 L287.8 312.75 L289.3 313.65 L290.8 314.55 L292.29 315.45 L293.79 316.35 L295.29 317.25 L296.79 318.15 L298.28 319.05 L299.78 319.94 L301.28 320.84 L302.78 321.74 L304.27 322.64 L305.77 323.54" stroke-width="0.88"/>
<path d="M217.42 270.43 L218.92 271.33 L220.41 272.24 L221.91 273.15 L223.41 274.06 L224.91 274.97 L226.4 275.88 L227.9 276.79 L229.4 277.7 L230.9 278.62 L232.39 279.53 L233.89 280.44 L235.39 281.35 L236.89 282.27 L238.38 283.18 L239.88 284.09 L241.38 285.01 L242.88 285.92 L244.37 286.83 L245.87 287.75 L247.37 288.67 L248.87 289.58 L250.36 290.5 L251.86 291.41 L253.36 292.33 L254.86 293.25 L256.35 294.16 L257.85 295.08 L259.35 296 L260.85 296.92 L262.34 297.84 L263.84 298.76 L265.34 299.68 L266.84 300.6 L268.33 301.52 L269.83 302.44 L271.33 303.36 L272.83 304.28 L274.32 305.2 L275.82 306.12 L277.32 307.05 L278.82 307.97 L280.31 308.89 L281.81 309.82 L283.31 310.74 L284.81 311.67 L286.3 312.59 L287.8 313.51 L289.3 314.44 L290.8 315.37 L292.29 316.29 L293.79 317.22 L295.29 318.15 L296.79 319.07 L298.28 320 L299.78 320.93 L301.28 321.86 L302.78 322.78 L304.27 323.71 L305.77 324.64" stroke-width="1.1"/>
<path d="M217.42 270.43 L218.92 271.34 L220.41 272.25 L221.91 273.16 L223.41 274.08 L224.91 274.99 L226.4 275.91 L227.9 276.83 L229.4 277.75 L230.9 278.67 L232.39 279.59 L233.89 280.51 L235.39 281.44 L236.89 282.36 L238.38 283.29 L239.88 284.21 L241.38 285.14 L242.88 286.07 L244.37 287 L245.87 287.93 L247.37 288.86 L248.87 289.79 L250.36 290.72 L251.86 291.66 L253.36 292.59 L254.86 293.53 L256.35 294.46 L257.85 295.4 L259.35 296.33 L260.85 297.27 L262.34 298.21 L263.84 299.15 L265.34 300.09 L266.84 301.03 L268.33 301.97 L269.83 302.92 L271.33 303.86 L272.83 304.8 L274.32 305.75 L275.82 306.69 L277.32 307.64 L278.82 308.58 L280.31 309.53 L281.81 310.48 L283.31 311.43 L284.81 312.38 L286.3 313.33 L287.8 314.28 L289.3 315.23 L290.8 316.18 L292.29 317.14 L293.79 318.09 L295.29 319.04 L296.79 320 L298.28 320.95 L299.78 321.91 L301.28 322.87 L302.78 323.83 L304.27 324.78 L305.77 325.74" stroke-width="0.88"/>
</g>
<g fill="none" stroke="#ff0000" stroke-width="1.1" stroke-dasharray="2.4 1.7" stroke-linejoin="round">
<path d="M217.42 270.02 L218.91 270.69 L220.4 271.36 L221.89 272.03 L223.38 272.7 L224.87 273.36 L226.36 274.03 L227.85 274.69 L229.34 275.35 L230.83 276 L232.32 276.66 L233.82 277.31 L235.31 277.96 L236.8 278.61 L238.29 279.25 L239.78 279.88 L241.27 280.52 L242.76 281.14 L244.25 281.76 L245.74 282.37 L247.23 282.97 L248.72 283.56 L250.21 284.14 L251.7 284.7 L253.19 285.26 L254.69 285.81 L256.18 286.34 L257.67 286.85 L259.16 287.36 L260.65 287.84 L262.14 288.31 L263.63 288.77 L265.12 289.2 L266.61 289.62 L268.1 290.02 L269.59 290.39 L271.08 290.75 L272.57 291.08 L274.06 291.4 L275.56 291.69 L277.05 291.96 L278.54 292.2 L280.03 292.42 L281.52 292.62 L283.01 292.79 L284.5 292.94 L285.99 293.07 L287.48 293.17 L288.97 293.25 L290.46 293.3 L291.95 293.33 L293.44 293.33 L294.93 293.31 L296.43 293.26 L297.92 293.2 L299.41 293.13 L300.9 293.03 L302.39 292.93 L303.88 292.83 L305.37 292.72" stroke-width="0.88"/>
<path d="M217.42 270.02 L218.91 270.7 L220.4 271.37 L221.89 272.04 L223.38 272.71 L224.87 273.38 L226.36 274.05 L227.85 274.72 L229.34 275.39 L230.83 276.05 L232.32 276.72 L233.82 277.38 L235.31 278.04 L236.8 278.7 L238.29 279.35 L239.78 280 L241.27 280.64 L242.76 281.28 L244.25 281.91 L245.74 282.53 L247.23 283.14 L248.72 283.75 L250.21 284.34 L251.7 284.93 L253.19 285.5 L254.69 286.06 L256.18 286.61 L257.67 287.14 L259.16 287.66 L260.65 288.16 L262.14 288.65 L263.63 289.12 L265.12 289.58 L266.61 290.01 L268.1 290.43 L269.59 290.83 L271.08 291.2 L272.57 291.56 L274.06 291.89 L275.56 292.2 L277.05 292.49 L278.54 292.76 L280.03 293 L281.52 293.22 L283.01 293.42 L284.5 293.59 L285.99 293.74 L287.48 293.86 L288.97 293.97 L290.46 294.04 L291.95 294.09 L293.44 294.12 L294.93 294.13 L296.43 294.11 L297.92 294.07 L299.41 294.02 L300.9 293.95 L302.39 293.88 L303.88 293.8 L305.37 293.72" stroke-width="1.1"/>
<path d="M217.42 270.02 L218.91 270.7 L220.4 271.37 L221.89 272.05 L223.38 272.72 L224.87 273.4 L226.36 274.08 L227.85 274.75 L229.34 275.43 L230.83 276.1 L232.32 276.77 L233.82 277.45 L235.31 278.12 L236.8 278.78 L238.29 279.45 L239.78 280.11 L241.27 280.76 L242.76 281.41 L244.25 282.06 L245.74 282.69 L247.23 283.32 L248.72 283.94 L250.21 284.55 L251.7 285.15 L253.19 285.74 L254.69 286.31 L256.18 286.88 L257.67 287.43 L259.16 287.96 L260.65 288.48 L262.14 288.99 L263.63 289.48 L265.12 289.95 L266.61 290.41 L268.1 290.84 L269.59 291.26 L271.08 291.66 L272.57 292.03 L274.06 292.39 L275.56 292.72 L277.05 293.03 L278.54 293.32 L280.03 293.58 L281.52 293.82 L283.01 294.04 L284.5 294.24 L285.99 294.41 L287.48 294.56 L288.97 294.68 L290.46 294.78 L291.95 294.86 L293.44 294.91 L294.93 294.94 L296.43 294.95 L297.92 294.94 L299.41 294.91 L300.9 294.87 L302.39 294.83 L303.88 294.77 L305.37 294.72" stroke-width="0.88"/>
</g>
<g fill="none" stroke="#0000ff" stroke-width="1.1" stroke-linejoin="round">
<path d="M217.42 269.62 L218.91 270.1 L220.4 270.57 L221.89 271.04 L223.38 271.51 L224.87 271.97 L226.36 272.42 L227.85 272.87 L229.34 273.31 L230.83 273.74 L232.32 274.16 L233.82 274.57 L235.31 274.96 L236.8 275.34 L238.29 275.71 L239.78 276.07 L241.27 276.42 L242.76 276.76 L244.25 277.08 L245.74 277.39 L247.23 277.69 L248.72 277.98 L250.21 278.26 L251.7 278.53 L253.19 278.78 L254.69 279.02 L256.18 279.26 L257.67 279.47 L259.16 279.67 L260.65 279.86 L262.14 280.03 L263.63 280.19 L265.12 280.32 L266.61 280.44 L268.1 280.53 L269.59 280.61 L271.08 280.66 L272.57 280.68 L274.06 280.69 L275.56 280.67 L277.05 280.62 L278.54 280.56 L280.03 280.48 L281.52 280.38 L283.01 280.26 L284.5 280.13 L285.99 279.98 L287.48 279.82 L288.97 279.65 L290.46 279.48 L291.95 279.29 L293.44 279.1 L294.93 278.91 L296.43 278.71 L297.92 278.5 L299.41 278.3 L300.9 278.09 L302.39 277.88 L303.88 277.67 L305.37 277.46" stroke-width="0.88"/>
<path d="M217.42 269.62 L218.91 270.1 L220.4 270.58 L221.89 271.05 L223.38 271.53 L224.87 271.99 L226.36 272.46 L227.85 272.91 L229.34 273.36 L230.83 273.8 L232.32 274.23 L233.82 274.65 L235.31 275.05 L236.8 275.45 L238.29 275.83 L239.78 276.21 L241.27 276.57 L242.76 276.92 L244.25 277.26 L245.74 277.59 L247.23 277.91 L248.72 278.21 L250.21 278.51 L251.7 278.79 L253.19 279.07 L254.69 279.33 L256.18 279.58 L257.67 279.82 L259.16 280.04 L260.65 280.25 L262.14 280.44 L263.63 280.61 L265.12 280.77 L266.61 280.91 L268.1 281.03 L269.59 281.13 L271.08 281.2 L272.57 281.25 L274.06 281.28 L275.56 281.29 L277.05 281.27 L278.54 281.23 L280.03 281.17 L281.52 281.1 L283.01 281.01 L284.5 280.9 L285.99 280.79 L287.48 280.66 L288.97 280.52 L290.46 280.37 L291.95 280.21 L293.44 280.05 L294.93 279.89 L296.43 279.72 L297.92 279.55 L299.41 279.37 L300.9 279.19 L302.39 279.02 L303.88 278.84 L305.37 278.66" stroke-width="1.1"/>
<path d="M217.42 269.62 L218.91 270.1 L220.4 270.58 L221.89 271.06 L223.38 271.54 L224.87 272.02 L226.36 272.49 L227.85 272.95 L229.34 273.41 L230.83 273.86 L232.32 274.3 L233.82 274.73 L235.31 275.15 L236.8 275.56 L238.29 275.96 L239.78 276.34 L241.27 276.72 L242.76 277.09 L244.25 277.44 L245.74 277.79 L247.23 278.12 L248.72 278.44 L250.21 278.76 L251.7 279.06 L253.19 279.35 L254.69 279.63 L256.18 279.9 L257.67 280.16 L259.16 280.4 L260.65 280.63 L262.14 280.85 L263.63 281.04 L265.12 281.22 L266.61 281.38 L268.1 281.53 L269.59 281.65 L271.08 281.75 L272.57 281.82 L274.06 281.88 L275.56 281.91 L277.05 281.91 L278.54 281.9 L280.03 281.87 L281.52 281.82 L283.01 281.76 L284.5 281.68 L285.99 281.59 L287.48 281.49 L288.97 281.38 L290.46 281.26 L291.95 281.13 L293.44 281 L294.93 280.87 L296.43 280.73 L297.92 280.59 L299.41 280.44 L300.9 280.3 L302.39 280.15 L303.88 280.01 L305.37 279.86" stroke-width="0.88"/>
</g>
<path d="M213.8 267.3 H310.7 V341.4" fill="none" stroke="#808080" stroke-width="0.9"/>
<path d="M213.8 266.9 V341.4 H311.1" fill="none" stroke="#000" stroke-width="1.0"/>
<path d="M213.8 267.3h3M213.8 272.36h1.5M213.8 277.42h1.5M213.8 282.48h1.5M213.8 287.54h1.5M213.8 292.6h3M213.8 297.66h1.5M213.8 302.72h1.5M213.8 307.78h1.5M213.8 312.84h1.5M213.8 317.9h3M213.8 322.96h1.5M213.8 328.02h1.5M213.8 333.08h1.5M213.8 338.14h1.5M216 341.4v-1.2M223 341.4v-1.2M230 341.4v-1.2M237 341.4v-1.2M244 341.4v-2.4M251 341.4v-1.2M258 341.4v-1.2M265 341.4v-1.2M272 341.4v-1.2M279 341.4v-2.4M286 341.4v-1.2M293 341.4v-1.2M300 341.4v-1.2M307 341.4v-1.2" stroke="#000" stroke-width="0.75" fill="none"/>
<text transform="translate(212.5 269.8) scale(1.285 1)" font-size="7.3" text-anchor="end" fill="#000">0</text>
<text transform="translate(212.5 295.1) scale(1.285 1)" font-size="7.3" text-anchor="end" fill="#000">-0.05</text>
<text transform="translate(212.5 320.4) scale(1.285 1)" font-size="7.3" text-anchor="end" fill="#000">-0.1</text>
<text transform="translate(244 352.3) scale(1.285 1)" font-size="7.3" text-anchor="middle" fill="#000">0.5</text>
<text transform="translate(279 352.3) scale(1.285 1)" font-size="7.3" text-anchor="middle" fill="#000">1</text>
<text transform="translate(219.1 337.6) scale(1.25 1)" font-size="8.6" text-anchor="start" fill="#ff0000">HERMES <tspan font-family='"Liberation Serif", "DejaVu Serif", serif' font-size="11" dx="1.1">π</tspan><tspan dy="-3.1" dx="0.5" font-size="6.3">0</tspan></text>
</g>
<g>
<g fill="none" stroke="#ff00ff" stroke-width="1.1" stroke-dasharray="5.5 1.8 1.4 1.8" stroke-linejoin="round">
<path d="M356.02 273.64 L357.52 274.56 L359.02 275.49 L360.51 276.41 L362.01 277.33 L363.51 278.25 L365.01 279.16 L366.5 280.08 L368 281 L369.5 281.91 L371 282.82 L372.49 283.73 L373.99 284.64 L375.49 285.55 L376.99 286.46 L378.48 287.36 L379.98 288.27 L381.48 289.17 L382.98 290.07 L384.47 290.97 L385.97 291.87 L387.47 292.77 L388.97 293.66 L390.46 294.56 L391.96 295.45 L393.46 296.34 L394.96 297.23 L396.45 298.12 L397.95 299.01 L399.45 299.89 L400.95 300.78 L402.44 301.66 L403.94 302.54 L405.44 303.43 L406.94 304.3 L408.43 305.18 L409.93 306.06 L411.43 306.93 L412.93 307.81 L414.42 308.68 L415.92 309.55 L417.42 310.42 L418.92 311.29 L420.41 312.16 L421.91 313.02 L423.41 313.89 L424.91 314.75 L426.4 315.61 L427.9 316.47 L429.4 317.33 L430.9 318.19 L432.39 319.05 L433.89 319.9 L435.39 320.75 L436.89 321.61 L438.38 322.46 L439.88 323.31 L441.38 324.16 L442.88 325 L444.37 325.85" stroke-width="1.7000000000000002"/>
</g>
<g fill="none" stroke="#ff0000" stroke-width="1.1" stroke-dasharray="2.9 1.9" stroke-linejoin="round">
<path d="M356.02 273.04 L357.52 273.74 L359.02 274.44 L360.51 275.14 L362.01 275.84 L363.51 276.54 L365.01 277.24 L366.5 277.93 L368 278.63 L369.5 279.33 L371 280.02 L372.49 280.72 L373.99 281.41 L375.49 282.1 L376.99 282.79 L378.48 283.48 L379.98 284.16 L381.48 284.84 L382.98 285.51 L384.47 286.18 L385.97 286.85 L387.47 287.5 L388.97 288.16 L390.46 288.8 L391.96 289.44 L393.46 290.07 L394.96 290.7 L396.45 291.31 L397.95 291.92 L399.45 292.52 L400.95 293.11 L402.44 293.69 L403.94 294.27 L405.44 294.83 L406.94 295.39 L408.43 295.93 L409.93 296.47 L411.43 297 L412.93 297.51 L414.42 298.02 L415.92 298.52 L417.42 299.01 L418.92 299.49 L420.41 299.96 L421.91 300.43 L423.41 300.88 L424.91 301.33 L426.4 301.77 L427.9 302.2 L429.4 302.62 L430.9 303.04 L432.39 303.45 L433.89 303.85 L435.39 304.25 L436.89 304.65 L438.38 305.04 L439.88 305.42 L441.38 305.81 L442.88 306.19 L444.37 306.57" stroke-width="1.9000000000000001"/>
</g>
<g fill="none" stroke="#0000ff" stroke-width="1.1" stroke-linejoin="round">
<path d="M356.02 271.63 L357.52 272.17 L359.02 272.72 L360.51 273.26 L362.01 273.8 L363.51 274.34 L365.01 274.88 L366.5 275.42 L368 275.96 L369.5 276.49 L371 277.02 L372.49 277.55 L373.99 278.08 L375.49 278.6 L376.99 279.12 L378.48 279.63 L379.98 280.14 L381.48 280.64 L382.98 281.13 L384.47 281.62 L385.97 282.1 L387.47 282.57 L388.97 283.03 L390.46 283.47 L391.96 283.91 L393.46 284.34 L394.96 284.75 L396.45 285.15 L397.95 285.55 L399.45 285.92 L400.95 286.29 L402.44 286.65 L403.94 286.99 L405.44 287.32 L406.94 287.64 L408.43 287.95 L409.93 288.25 L411.43 288.53 L412.93 288.8 L414.42 289.06 L415.92 289.31 L417.42 289.54 L418.92 289.77 L420.41 289.98 L421.91 290.17 L423.41 290.35 L424.91 290.53 L426.4 290.68 L427.9 290.83 L429.4 290.96 L430.9 291.08 L432.39 291.18 L433.89 291.28 L435.39 291.36 L436.89 291.43 L438.38 291.5 L439.88 291.55 L441.38 291.61 L442.88 291.66 L444.37 291.71" stroke-width="1.9000000000000001"/>
</g>
<path d="M352.3 267.3 H449.9 V341.4" fill="none" stroke="#808080" stroke-width="0.9"/>
<path d="M352.3 266.9 V341.4 H450.3" fill="none" stroke="#000" stroke-width="1.0"/>
<path d="M352.3 267.5h3M352.3 270.86h1.5M352.3 274.22h1.5M352.3 277.58h1.5M352.3 280.94h1.5M352.3 284.3h3M352.3 287.66h1.5M352.3 291.02h1.5M352.3 294.38h1.5M352.3 297.74h1.5M352.3 301.1h3M352.3 304.46h1.5M352.3 307.82h1.5M352.3 311.18h1.5M352.3 314.54h1.5M352.3 317.9h3M352.3 321.26h1.5M352.3 324.62h1.5M352.3 327.98h1.5M352.3 331.34h1.5M352.3 334.7h3M352.3 338.06h1.5M355.25 341.4v-1.2M360.88 341.4v-1.2M366.5 341.4v-2.4M372.12 341.4v-1.2M377.75 341.4v-1.2M383.38 341.4v-1.2M389 341.4v-2.4M394.62 341.4v-1.2M400.25 341.4v-1.2M405.88 341.4v-1.2M411.5 341.4v-2.4M417.12 341.4v-1.2M422.75 341.4v-1.2M428.38 341.4v-1.2M434 341.4v-2.4M439.62 341.4v-1.2M445.25 341.4v-1.2" stroke="#000" stroke-width="0.75" fill="none"/>
<text transform="translate(351 270) scale(1.285 1)" font-size="7.3" text-anchor="end" fill="#000">-0</text>
<text transform="translate(351 286.8) scale(1.285 1)" font-size="7.3" text-anchor="end" fill="#000">-0.05</text>
<text transform="translate(351 303.6) scale(1.285 1)" font-size="7.3" text-anchor="end" fill="#000">-0.1</text>
<text transform="translate(351 320.4) scale(1.285 1)" font-size="7.3" text-anchor="end" fill="#000">-0.15</text>
<text transform="translate(351 337.2) scale(1.285 1)" font-size="7.3" text-anchor="end" fill="#000">-0.2</text>
<text transform="translate(366.5 352.3) scale(1.285 1)" font-size="7.3" text-anchor="middle" fill="#000">0.2</text>
<text transform="translate(389 352.3) scale(1.285 1)" font-size="7.3" text-anchor="middle" fill="#000">0.4</text>
<text transform="translate(411.5 352.3) scale(1.285 1)" font-size="7.3" text-anchor="middle" fill="#000">0.6</text>
<text transform="translate(434 352.3) scale(1.285 1)" font-size="7.3" text-anchor="middle" fill="#000">0.8</text>
<text transform="translate(357.3 337.6) scale(1.25 1)" font-size="8.6" text-anchor="start" fill="#ff0000">JLab <tspan font-family='"Liberation Serif", "DejaVu Serif", serif' font-size="11" dx="1.1">π</tspan><tspan dy="-3.1" dx="0.5" font-size="6.3">0</tspan></text>
</g>
<g transform="translate(31.7 304.4) scale(1.5 1) rotate(-90)" fill="#000" stroke="#000" stroke-width="0">
<text x="0" y="0" font-size="8.5" stroke-width="0.25">A</text>
<text x="6.3" y="2.2" font-size="5.6" stroke-width="0.15">LL</text>
<text x="6.4" y="-6.9" font-size="6.6">cos<tspan font-size="5.6" font-family='"Liberation Serif", "DejaVu Serif", serif' font-weight="normal" fill="#222">ϕ</tspan></text>
<text x="21.3" y="-4.7" font-size="3.6" stroke="none">h</text>
</g>
<g>
<g fill="none" stroke="#ff00ff" stroke-width="1.1" stroke-dasharray="5.5 1.8 1.4 1.8" stroke-linejoin="round">
<path d="M79.42 367.63 L80.91 369.32 L82.4 371.01 L83.89 372.69 L85.38 374.37 L86.87 376.04 L88.36 377.69 L89.85 379.34 L91.34 380.97 L92.83 382.59 L94.32 384.19 L95.82 385.77 L97.31 387.33 L98.8 388.87 L100.29 390.39 L101.78 391.88 L103.27 393.34 L104.76 394.77 L106.25 396.17 L107.74 397.54 L109.23 398.87 L110.72 400.16 L112.21 401.42 L113.7 402.63 L115.19 403.8 L116.69 404.93 L118.18 406.01 L119.67 407.04 L121.16 408.03 L122.65 408.99 L124.14 409.89 L125.63 410.76 L127.12 411.59 L128.61 412.37 L130.1 413.12 L131.59 413.83 L133.08 414.5 L134.57 415.13 L136.06 415.73 L137.56 416.29 L139.05 416.81 L140.54 417.28 L142.03 417.72 L143.52 418.11 L145.01 418.46 L146.5 418.76 L147.99 419.02 L149.48 419.22 L150.97 419.37 L152.46 419.47 L153.95 419.51 L155.44 419.5 L156.93 419.43 L158.43 419.31 L159.92 419.15 L161.41 418.95 L162.9 418.72 L164.39 418.47 L165.88 418.21 L167.37 417.94" stroke-width="1.22"/>
<path d="M79.42 367.63 L80.91 369.33 L82.4 371.02 L83.89 372.71 L85.38 374.39 L86.87 376.07 L88.36 377.74 L89.85 379.39 L91.34 381.04 L92.83 382.67 L94.32 384.29 L95.82 385.89 L97.31 387.47 L98.8 389.02 L100.29 390.56 L101.78 392.07 L103.27 393.55 L104.76 395 L106.25 396.43 L107.74 397.82 L109.23 399.17 L110.72 400.49 L112.21 401.77 L113.7 403.01 L115.19 404.2 L116.69 405.36 L118.18 406.46 L119.67 407.53 L121.16 408.55 L122.65 409.53 L124.14 410.47 L125.63 411.37 L127.12 412.23 L128.61 413.04 L130.1 413.82 L131.59 414.57 L133.08 415.27 L134.57 415.94 L136.06 416.57 L137.56 417.16 L139.05 417.72 L140.54 418.23 L142.03 418.71 L143.52 419.14 L145.01 419.53 L146.5 419.87 L147.99 420.16 L149.48 420.4 L150.97 420.59 L152.46 420.73 L153.95 420.81 L155.44 420.84 L156.93 420.82 L158.43 420.74 L159.92 420.62 L161.41 420.47 L162.9 420.29 L164.39 420.08 L165.88 419.86 L167.37 419.64" stroke-width="1.22"/>
<path d="M79.42 367.63 L80.91 369.33 L82.4 371.03 L83.89 372.72 L85.38 374.41 L86.87 376.1 L88.36 377.78 L89.85 379.45 L91.34 381.11 L92.83 382.76 L94.32 384.39 L95.82 386 L97.31 387.6 L98.8 389.17 L100.29 390.73 L101.78 392.26 L103.27 393.76 L104.76 395.24 L106.25 396.68 L107.74 398.09 L109.23 399.47 L110.72 400.82 L112.21 402.12 L113.7 403.38 L115.19 404.61 L116.69 405.79 L118.18 406.92 L119.67 408.02 L121.16 409.07 L122.65 410.08 L124.14 411.05 L125.63 411.98 L127.12 412.86 L128.61 413.72 L130.1 414.53 L131.59 415.3 L133.08 416.04 L134.57 416.74 L136.06 417.41 L137.56 418.04 L139.05 418.63 L140.54 419.18 L142.03 419.7 L143.52 420.16 L145.01 420.59 L146.5 420.97 L147.99 421.3 L149.48 421.58 L150.97 421.81 L152.46 421.99 L153.95 422.12 L155.44 422.19 L156.93 422.21 L158.43 422.17 L159.92 422.1 L161.41 421.99 L162.9 421.85 L164.39 421.69 L165.88 421.52 L167.37 421.34" stroke-width="1.22"/>
</g>
<g fill="none" stroke="#ff0000" stroke-width="1.1" stroke-dasharray="2.4 1.7" stroke-linejoin="round">
<path d="M79.42 367.03 L80.91 368.36 L82.4 369.69 L83.89 371.01 L85.38 372.3 L86.87 373.58 L88.36 374.83 L89.85 376.04 L91.34 377.22 L92.83 378.36 L94.32 379.44 L95.82 380.48 L97.31 381.45 L98.8 382.38 L100.29 383.25 L101.78 384.07 L103.27 384.84 L104.76 385.56 L106.25 386.23 L107.74 386.86 L109.23 387.44 L110.72 387.97 L112.21 388.47 L113.7 388.92 L115.19 389.33 L116.69 389.69 L118.18 390.02 L119.67 390.3 L121.16 390.53 L122.65 390.71 L124.14 390.83 L125.63 390.89 L127.12 390.89 L128.61 390.82 L130.1 390.7 L131.59 390.52 L133.08 390.29 L134.57 390.03 L136.06 389.73 L137.56 389.41 L139.05 389.05 L140.54 388.67 L142.03 388.26 L143.52 387.82 L145.01 387.35 L146.5 386.85 L147.99 386.33 L149.48 385.77 L150.97 385.2 L152.46 384.59 L153.95 383.96 L155.44 383.3 L156.93 382.62 L158.43 381.91 L159.92 381.19 L161.41 380.44 L162.9 379.69 L164.39 378.92 L165.88 378.15 L167.37 377.38" stroke-width="1.22"/>
<path d="M79.42 367.03 L80.91 368.37 L82.4 369.7 L83.89 371.02 L85.38 372.33 L86.87 373.61 L88.36 374.87 L89.85 376.1 L91.34 377.29 L92.83 378.44 L94.32 379.54 L95.82 380.59 L97.31 381.59 L98.8 382.53 L100.29 383.42 L101.78 384.26 L103.27 385.05 L104.76 385.79 L106.25 386.49 L107.74 387.14 L109.23 387.74 L110.72 388.3 L112.21 388.82 L113.7 389.29 L115.19 389.73 L116.69 390.12 L118.18 390.48 L119.67 390.79 L121.16 391.04 L122.65 391.25 L124.14 391.4 L125.63 391.5 L127.12 391.53 L128.61 391.49 L130.1 391.4 L131.59 391.26 L133.08 391.07 L134.57 390.84 L136.06 390.57 L137.56 390.28 L139.05 389.97 L140.54 389.62 L142.03 389.24 L143.52 388.84 L145.01 388.41 L146.5 387.95 L147.99 387.47 L149.48 386.96 L150.97 386.42 L152.46 385.85 L153.95 385.26 L155.44 384.65 L156.93 384.01 L158.43 383.34 L159.92 382.66 L161.41 381.96 L162.9 381.25 L164.39 380.53 L165.88 379.81 L167.37 379.08" stroke-width="1.22"/>
<path d="M79.42 367.03 L80.91 368.37 L82.4 369.71 L83.89 371.03 L85.38 372.35 L86.87 373.64 L88.36 374.91 L89.85 376.15 L91.34 377.36 L92.83 378.52 L94.32 379.64 L95.82 380.71 L97.31 381.72 L98.8 382.68 L100.29 383.59 L101.78 384.45 L103.27 385.26 L104.76 386.02 L106.25 386.74 L107.74 387.41 L109.23 388.04 L110.72 388.62 L112.21 389.17 L113.7 389.67 L115.19 390.13 L116.69 390.55 L118.18 390.94 L119.67 391.27 L121.16 391.56 L122.65 391.8 L124.14 391.98 L125.63 392.1 L127.12 392.17 L128.61 392.16 L130.1 392.1 L131.59 391.99 L133.08 391.84 L134.57 391.64 L136.06 391.42 L137.56 391.16 L139.05 390.88 L140.54 390.57 L142.03 390.23 L143.52 389.87 L145.01 389.47 L146.5 389.05 L147.99 388.61 L149.48 388.14 L150.97 387.64 L152.46 387.12 L153.95 386.57 L155.44 385.99 L156.93 385.4 L158.43 384.77 L159.92 384.14 L161.41 383.48 L162.9 382.82 L164.39 382.14 L165.88 381.46 L167.37 380.78" stroke-width="1.22"/>
</g>
<g fill="none" stroke="#0000ff" stroke-width="1.1" stroke-linejoin="round">
<path d="M79.42 366.02 L80.91 366.9 L82.4 367.78 L83.89 368.64 L85.38 369.49 L86.87 370.32 L88.36 371.13 L89.85 371.91 L91.34 372.66 L92.83 373.37 L94.32 374.04 L95.82 374.67 L97.31 375.25 L98.8 375.78 L100.29 376.27 L101.78 376.71 L103.27 377.11 L104.76 377.46 L106.25 377.77 L107.74 378.04 L109.23 378.26 L110.72 378.44 L112.21 378.58 L113.7 378.67 L115.19 378.72 L116.69 378.73 L118.18 378.7 L119.67 378.63 L121.16 378.51 L122.65 378.35 L124.14 378.16 L125.63 377.94 L127.12 377.69 L128.61 377.41 L130.1 377.11 L131.59 376.79 L133.08 376.45 L134.57 376.1 L136.06 375.74 L137.56 375.38 L139.05 375 L140.54 374.62 L142.03 374.23 L143.52 373.83 L145.01 373.43 L146.5 373.01 L147.99 372.6 L149.48 372.17 L150.97 371.75 L152.46 371.31 L153.95 370.87 L155.44 370.42 L156.93 369.97 L158.43 369.52 L159.92 369.06 L161.41 368.6 L162.9 368.14 L164.39 367.67 L165.88 367.2 L167.37 366.73" stroke-width="1.08"/>
<path d="M79.42 366.02 L80.91 366.91 L82.4 367.78 L83.89 368.65 L85.38 369.51 L86.87 370.35 L88.36 371.17 L89.85 371.96 L91.34 372.72 L92.83 373.44 L94.32 374.13 L95.82 374.77 L97.31 375.36 L98.8 375.91 L100.29 376.42 L101.78 376.88 L103.27 377.3 L104.76 377.67 L106.25 378 L107.74 378.28 L109.23 378.53 L110.72 378.73 L112.21 378.89 L113.7 379 L115.19 379.08 L116.69 379.11 L118.18 379.1 L119.67 379.06 L121.16 378.96 L122.65 378.84 L124.14 378.67 L125.63 378.48 L127.12 378.25 L128.61 378 L130.1 377.73 L131.59 377.44 L133.08 377.13 L134.57 376.81 L136.06 376.48 L137.56 376.15 L139.05 375.81 L140.54 375.45 L142.03 375.1 L143.52 374.73 L145.01 374.36 L146.5 373.99 L147.99 373.6 L149.48 373.22 L150.97 372.82 L152.46 372.42 L153.95 372.02 L155.44 371.61 L156.93 371.2 L158.43 370.78 L159.92 370.36 L161.41 369.94 L162.9 369.52 L164.39 369.09 L165.88 368.66 L167.37 368.23" stroke-width="1.1"/>
<path d="M79.42 366.02 L80.91 366.91 L82.4 367.79 L83.89 368.67 L85.38 369.53 L86.87 370.38 L88.36 371.2 L89.85 372.01 L91.34 372.78 L92.83 373.52 L94.32 374.21 L95.82 374.87 L97.31 375.48 L98.8 376.05 L100.29 376.57 L101.78 377.05 L103.27 377.48 L104.76 377.87 L106.25 378.22 L107.74 378.53 L109.23 378.79 L110.72 379.01 L112.21 379.19 L113.7 379.33 L115.19 379.43 L116.69 379.49 L118.18 379.51 L119.67 379.48 L121.16 379.42 L122.65 379.32 L124.14 379.18 L125.63 379.01 L127.12 378.81 L128.61 378.59 L130.1 378.35 L131.59 378.09 L133.08 377.81 L134.57 377.52 L136.06 377.23 L137.56 376.92 L139.05 376.61 L140.54 376.29 L142.03 375.97 L143.52 375.64 L145.01 375.3 L146.5 374.96 L147.99 374.61 L149.48 374.26 L150.97 373.9 L152.46 373.54 L153.95 373.17 L155.44 372.8 L156.93 372.43 L158.43 372.05 L159.92 371.67 L161.41 371.28 L162.9 370.9 L164.39 370.51 L165.88 370.12 L167.37 369.73" stroke-width="1.08"/>
</g>
<path d="M75.5 362.7 H172.6 V437.4" fill="none" stroke="#808080" stroke-width="0.9"/>
<path d="M75.5 362.3 V437.4 H173" fill="none" stroke="#000" stroke-width="1.0"/>
<path d="M75.5 362.9h3M75.5 366.98h1.5M75.5 371.06h1.5M75.5 375.14h1.5M75.5 379.22h1.5M75.5 383.3h3M75.5 387.38h1.5M75.5 391.46h1.5M75.5 395.54h1.5M75.5 399.62h1.5M75.5 403.7h3M75.5 407.78h1.5M75.5 411.86h1.5M75.5 415.94h1.5M75.5 420.02h1.5M75.5 424.1h3M75.5 428.18h1.5M75.5 432.26h1.5M75.5 436.34h1.5M79.2 437.4v-1.2M84.4 437.4v-1.2M89.6 437.4v-1.2M94.8 437.4v-1.2M100 437.4v-2.4M105.2 437.4v-1.2M110.4 437.4v-1.2M115.6 437.4v-1.2M120.8 437.4v-1.2M126 437.4v-2.4M131.2 437.4v-1.2M136.4 437.4v-1.2M141.6 437.4v-1.2M146.8 437.4v-1.2M152 437.4v-2.4M157.2 437.4v-1.2M162.4 437.4v-1.2M167.6 437.4v-1.2" stroke="#000" stroke-width="0.75" fill="none"/>
<text transform="translate(74.2 365.4) scale(1.285 1)" font-size="7.3" text-anchor="end" fill="#000">0</text>
<text transform="translate(74.2 385.8) scale(1.285 1)" font-size="7.3" text-anchor="end" fill="#000">-0.01</text>
<text transform="translate(74.2 406.2) scale(1.285 1)" font-size="7.3" text-anchor="end" fill="#000">-0.02</text>
<text transform="translate(74.2 426.6) scale(1.285 1)" font-size="7.3" text-anchor="end" fill="#000">-0.03</text>
<text transform="translate(100 448.7) scale(1.285 1)" font-size="7.3" text-anchor="middle" fill="#000">0.5</text>
<text transform="translate(126 448.7) scale(1.285 1)" font-size="7.3" text-anchor="middle" fill="#000">1</text>
<text transform="translate(152 448.7) scale(1.285 1)" font-size="7.3" text-anchor="middle" fill="#000">1.5</text>
<text transform="translate(80.5 434.5) scale(1.25 1)" font-size="8.6" text-anchor="start" fill="#ff0000">COMPASS h<tspan dy="-4.8" dx="0.2" font-size="6.4">-</tspan></text>
</g>
<g>
<g fill="none" stroke="#ff00ff" stroke-width="1.1" stroke-dasharray="5.5 1.8 1.4 1.8" stroke-linejoin="round">
<path d="M217.42 367.63 L218.92 368.73 L220.41 369.82 L221.91 370.91 L223.41 372 L224.91 373.09 L226.4 374.18 L227.9 375.26 L229.4 376.35 L230.9 377.43 L232.39 378.5 L233.89 379.57 L235.39 380.64 L236.89 381.71 L238.38 382.77 L239.88 383.83 L241.38 384.87 L242.88 385.92 L244.37 386.95 L245.87 387.98 L247.37 388.99 L248.87 390 L250.36 391 L251.86 391.98 L253.36 392.95 L254.86 393.92 L256.35 394.86 L257.85 395.8 L259.35 396.72 L260.85 397.63 L262.34 398.52 L263.84 399.4 L265.34 400.26 L266.84 401.11 L268.33 401.94 L269.83 402.76 L271.33 403.56 L272.83 404.34 L274.32 405.11 L275.82 405.86 L277.32 406.59 L278.82 407.31 L280.31 408.02 L281.81 408.71 L283.31 409.38 L284.81 410.05 L286.3 410.7 L287.8 411.34 L289.3 411.96 L290.8 412.58 L292.29 413.19 L293.79 413.79 L295.29 414.37 L296.79 414.96 L298.28 415.53 L299.78 416.1 L301.28 416.66 L302.78 417.22 L304.27 417.78 L305.77 418.34" stroke-width="0.94"/>
<path d="M217.42 367.63 L218.92 368.73 L220.41 369.83 L221.91 370.93 L223.41 372.02 L224.91 373.12 L226.4 374.21 L227.9 375.31 L229.4 376.4 L230.9 377.49 L232.39 378.58 L233.89 379.66 L235.39 380.75 L236.89 381.83 L238.38 382.9 L239.88 383.97 L241.38 385.04 L242.88 386.09 L244.37 387.15 L245.87 388.19 L247.37 389.22 L248.87 390.25 L250.36 391.26 L251.86 392.27 L253.36 393.26 L254.86 394.24 L256.35 395.21 L257.85 396.17 L259.35 397.11 L260.85 398.04 L262.34 398.96 L263.84 399.86 L265.34 400.75 L266.84 401.62 L268.33 402.48 L269.83 403.32 L271.33 404.15 L272.83 404.96 L274.32 405.75 L275.82 406.53 L277.32 407.29 L278.82 408.04 L280.31 408.77 L281.81 409.49 L283.31 410.2 L284.81 410.89 L286.3 411.57 L287.8 412.24 L289.3 412.9 L290.8 413.55 L292.29 414.19 L293.79 414.81 L295.29 415.44 L296.79 416.05 L298.28 416.66 L299.78 417.26 L301.28 417.86 L302.78 418.45 L304.27 419.05 L305.77 419.64" stroke-width="1.1"/>
<path d="M217.42 367.63 L218.92 368.73 L220.41 369.83 L221.91 370.94 L223.41 372.04 L224.91 373.14 L226.4 374.25 L227.9 375.35 L229.4 376.45 L230.9 377.55 L232.39 378.65 L233.89 379.75 L235.39 380.85 L236.89 381.94 L238.38 383.03 L239.88 384.12 L241.38 385.2 L242.88 386.27 L244.37 387.34 L245.87 388.4 L247.37 389.45 L248.87 390.5 L250.36 391.53 L251.86 392.56 L253.36 393.57 L254.86 394.57 L256.35 395.56 L257.85 396.54 L259.35 397.51 L260.85 398.46 L262.34 399.4 L263.84 400.33 L265.34 401.24 L266.84 402.14 L268.33 403.02 L269.83 403.89 L271.33 404.74 L272.83 405.58 L274.32 406.4 L275.82 407.2 L277.32 407.99 L278.82 408.77 L280.31 409.53 L281.81 410.27 L283.31 411.01 L284.81 411.73 L286.3 412.44 L287.8 413.14 L289.3 413.83 L290.8 414.51 L292.29 415.18 L293.79 415.84 L295.29 416.5 L296.79 417.15 L298.28 417.79 L299.78 418.42 L301.28 419.05 L302.78 419.68 L304.27 420.31 L305.77 420.94" stroke-width="0.94"/>
</g>
<g fill="none" stroke="#ff0000" stroke-width="1.1" stroke-dasharray="2.4 1.7" stroke-linejoin="round">
<path d="M217.42 367.03 L218.91 367.8 L220.4 368.57 L221.89 369.34 L223.38 370.1 L224.87 370.87 L226.36 371.63 L227.85 372.38 L229.34 373.13 L230.83 373.88 L232.32 374.62 L233.82 375.35 L235.31 376.08 L236.8 376.8 L238.29 377.51 L239.78 378.21 L241.27 378.9 L242.76 379.58 L244.25 380.24 L245.74 380.88 L247.23 381.51 L248.72 382.13 L250.21 382.72 L251.7 383.3 L253.19 383.85 L254.69 384.38 L256.18 384.89 L257.67 385.37 L259.16 385.84 L260.65 386.28 L262.14 386.7 L263.63 387.1 L265.12 387.48 L266.61 387.84 L268.1 388.18 L269.59 388.5 L271.08 388.79 L272.57 389.07 L274.06 389.33 L275.56 389.56 L277.05 389.78 L278.54 389.98 L280.03 390.15 L281.52 390.3 L283.01 390.43 L284.5 390.53 L285.99 390.62 L287.48 390.67 L288.97 390.71 L290.46 390.71 L291.95 390.7 L293.44 390.65 L294.93 390.58 L296.43 390.49 L297.92 390.38 L299.41 390.24 L300.9 390.1 L302.39 389.95 L303.88 389.79 L305.37 389.62" stroke-width="0.88"/>
<path d="M217.42 367.03 L218.91 367.8 L220.4 368.58 L221.89 369.35 L223.38 370.12 L224.87 370.89 L226.36 371.65 L227.85 372.42 L229.34 373.18 L230.83 373.93 L232.32 374.68 L233.82 375.43 L235.31 376.17 L236.8 376.9 L238.29 377.62 L239.78 378.33 L241.27 379.04 L242.76 379.73 L244.25 380.4 L245.74 381.06 L247.23 381.71 L248.72 382.34 L250.21 382.95 L251.7 383.54 L253.19 384.11 L254.69 384.66 L256.18 385.18 L257.67 385.69 L259.16 386.17 L260.65 386.63 L262.14 387.08 L263.63 387.5 L265.12 387.9 L266.61 388.28 L268.1 388.63 L269.59 388.97 L271.08 389.29 L272.57 389.59 L274.06 389.87 L275.56 390.13 L277.05 390.37 L278.54 390.59 L280.03 390.79 L281.52 390.96 L283.01 391.12 L284.5 391.25 L285.99 391.36 L287.48 391.44 L288.97 391.5 L290.46 391.53 L291.95 391.54 L293.44 391.52 L294.93 391.48 L296.43 391.42 L297.92 391.33 L299.41 391.23 L300.9 391.11 L302.39 390.99 L303.88 390.86 L305.37 390.72" stroke-width="1.1"/>
<path d="M217.42 367.03 L218.91 367.8 L220.4 368.58 L221.89 369.36 L223.38 370.13 L224.87 370.91 L226.36 371.68 L227.85 372.45 L229.34 373.22 L230.83 373.99 L232.32 374.75 L233.82 375.5 L235.31 376.25 L236.8 377 L238.29 377.73 L239.78 378.46 L241.27 379.17 L242.76 379.88 L244.25 380.57 L245.74 381.24 L247.23 381.9 L248.72 382.55 L250.21 383.18 L251.7 383.78 L253.19 384.37 L254.69 384.94 L256.18 385.48 L257.67 386 L259.16 386.51 L260.65 386.99 L262.14 387.45 L263.63 387.89 L265.12 388.31 L266.61 388.71 L268.1 389.09 L269.59 389.45 L271.08 389.79 L272.57 390.11 L274.06 390.42 L275.56 390.7 L277.05 390.96 L278.54 391.2 L280.03 391.43 L281.52 391.63 L283.01 391.81 L284.5 391.96 L285.99 392.09 L287.48 392.2 L288.97 392.29 L290.46 392.35 L291.95 392.38 L293.44 392.39 L294.93 392.38 L296.43 392.34 L297.92 392.28 L299.41 392.21 L300.9 392.13 L302.39 392.03 L303.88 391.93 L305.37 391.82" stroke-width="0.88"/>
</g>
<g fill="none" stroke="#0000ff" stroke-width="1.1" stroke-linejoin="round">
<path d="M217.42 366.02 L218.91 366.58 L220.4 367.12 L221.89 367.67 L223.38 368.21 L224.87 368.74 L226.36 369.27 L227.85 369.79 L229.34 370.31 L230.83 370.81 L232.32 371.31 L233.82 371.79 L235.31 372.26 L236.8 372.72 L238.29 373.16 L239.78 373.59 L241.27 374.01 L242.76 374.41 L244.25 374.79 L245.74 375.16 L247.23 375.51 L248.72 375.84 L250.21 376.15 L251.7 376.45 L253.19 376.72 L254.69 376.97 L256.18 377.2 L257.67 377.41 L259.16 377.6 L260.65 377.77 L262.14 377.92 L263.63 378.05 L265.12 378.15 L266.61 378.24 L268.1 378.3 L269.59 378.34 L271.08 378.36 L272.57 378.36 L274.06 378.34 L275.56 378.29 L277.05 378.23 L278.54 378.14 L280.03 378.03 L281.52 377.91 L283.01 377.76 L284.5 377.6 L285.99 377.42 L287.48 377.22 L288.97 377.01 L290.46 376.78 L291.95 376.53 L293.44 376.26 L294.93 375.98 L296.43 375.69 L297.92 375.39 L299.41 375.07 L300.9 374.75 L302.39 374.43 L303.88 374.09 L305.37 373.76" stroke-width="1.08"/>
<path d="M217.42 366.02 L218.91 366.58 L220.4 367.13 L221.89 367.68 L223.38 368.23 L224.87 368.77 L226.36 369.31 L227.85 369.84 L229.34 370.37 L230.83 370.89 L232.32 371.39 L233.82 371.89 L235.31 372.38 L236.8 372.85 L238.29 373.31 L239.78 373.76 L241.27 374.19 L242.76 374.61 L244.25 375.01 L245.74 375.4 L247.23 375.77 L248.72 376.13 L250.21 376.46 L251.7 376.78 L253.19 377.07 L254.69 377.35 L256.18 377.61 L257.67 377.84 L259.16 378.06 L260.65 378.25 L262.14 378.43 L263.63 378.58 L265.12 378.72 L266.61 378.83 L268.1 378.92 L269.59 378.99 L271.08 379.04 L272.57 379.07 L274.06 379.08 L275.56 379.06 L277.05 379.03 L278.54 378.98 L280.03 378.91 L281.52 378.81 L283.01 378.7 L284.5 378.57 L285.99 378.43 L287.48 378.27 L288.97 378.09 L290.46 377.89 L291.95 377.68 L293.44 377.45 L294.93 377.21 L296.43 376.95 L297.92 376.69 L299.41 376.41 L300.9 376.13 L302.39 375.85 L303.88 375.55 L305.37 375.26" stroke-width="1.1"/>
<path d="M217.42 366.02 L218.91 366.58 L220.4 367.14 L221.89 367.69 L223.38 368.25 L224.87 368.8 L226.36 369.35 L227.85 369.89 L229.34 370.43 L230.83 370.96 L232.32 371.48 L233.82 371.99 L235.31 372.49 L236.8 372.98 L238.29 373.46 L239.78 373.93 L241.27 374.38 L242.76 374.82 L244.25 375.24 L245.74 375.65 L247.23 376.04 L248.72 376.41 L250.21 376.77 L251.7 377.11 L253.19 377.43 L254.69 377.73 L256.18 378.01 L257.67 378.27 L259.16 378.51 L260.65 378.74 L262.14 378.94 L263.63 379.12 L265.12 379.28 L266.61 379.42 L268.1 379.54 L269.59 379.64 L271.08 379.72 L272.57 379.78 L274.06 379.82 L275.56 379.84 L277.05 379.84 L278.54 379.82 L280.03 379.78 L281.52 379.72 L283.01 379.64 L284.5 379.55 L285.99 379.44 L287.48 379.31 L288.97 379.16 L290.46 379 L291.95 378.83 L293.44 378.64 L294.93 378.43 L296.43 378.22 L297.92 377.99 L299.41 377.76 L300.9 377.51 L302.39 377.26 L303.88 377.01 L305.37 376.76" stroke-width="1.08"/>
</g>
<path d="M213.8 362.7 H310.7 V437.4" fill="none" stroke="#808080" stroke-width="0.9"/>
<path d="M213.8 362.3 V437.4 H311.1" fill="none" stroke="#000" stroke-width="1.0"/>
<path d="M213.8 362.9h3M213.8 367.36h1.5M213.8 371.82h1.5M213.8 376.29h1.5M213.8 380.75h3M213.8 385.21h1.5M213.8 389.67h1.5M213.8 394.14h1.5M213.8 398.6h3M213.8 403.06h1.5M213.8 407.52h1.5M213.8 411.99h1.5M213.8 416.45h3M213.8 420.91h1.5M213.8 425.38h1.5M213.8 429.84h1.5M213.8 434.3h3M216 437.4v-1.2M223 437.4v-1.2M230 437.4v-1.2M237 437.4v-1.2M244 437.4v-2.4M251 437.4v-1.2M258 437.4v-1.2M265 437.4v-1.2M272 437.4v-1.2M279 437.4v-2.4M286 437.4v-1.2M293 437.4v-1.2M300 437.4v-1.2M307 437.4v-1.2" stroke="#000" stroke-width="0.75" fill="none"/>
<text transform="translate(212.5 365.4) scale(1.285 1)" font-size="7.3" text-anchor="end" fill="#000">0</text>
<text transform="translate(212.5 383.25) scale(1.285 1)" font-size="7.3" text-anchor="end" fill="#000">-0.02</text>
<text transform="translate(212.5 401.1) scale(1.285 1)" font-size="7.3" text-anchor="end" fill="#000">-0.04</text>
<text transform="translate(212.5 418.95) scale(1.285 1)" font-size="7.3" text-anchor="end" fill="#000">-0.06</text>
<text transform="translate(212.5 436.8) scale(1.285 1)" font-size="7.3" text-anchor="end" fill="#000">-0.08</text>
<text transform="translate(244 448.7) scale(1.285 1)" font-size="7.3" text-anchor="middle" fill="#000">0.5</text>
<text transform="translate(279 448.7) scale(1.285 1)" font-size="7.3" text-anchor="middle" fill="#000">1</text>
<text transform="translate(219.1 434.5) scale(1.25 1)" font-size="8.6" text-anchor="start" fill="#ff0000">HERMES <tspan font-family='"Liberation Serif", "DejaVu Serif", serif' font-size="11" dx="1.1">π</tspan><tspan dy="-4.8" dx="0.5" font-size="6.4">-</tspan></text>
</g>
<g>
<g fill="none" stroke="#ff00ff" stroke-width="1.1" stroke-dasharray="5.5 1.8 1.4 1.8" stroke-linejoin="round">
<path d="M356.02 369.64 L357.52 370.56 L359.02 371.49 L360.51 372.41 L362.01 373.33 L363.51 374.25 L365.01 375.16 L366.5 376.08 L368 377 L369.5 377.91 L371 378.82 L372.49 379.73 L373.99 380.64 L375.49 381.55 L376.99 382.46 L378.48 383.36 L379.98 384.27 L381.48 385.17 L382.98 386.07 L384.47 386.97 L385.97 387.87 L387.47 388.77 L388.97 389.66 L390.46 390.56 L391.96 391.45 L393.46 392.34 L394.96 393.23 L396.45 394.12 L397.95 395.01 L399.45 395.89 L400.95 396.78 L402.44 397.66 L403.94 398.54 L405.44 399.43 L406.94 400.3 L408.43 401.18 L409.93 402.06 L411.43 402.93 L412.93 403.81 L414.42 404.68 L415.92 405.55 L417.42 406.42 L418.92 407.29 L420.41 408.16 L421.91 409.02 L423.41 409.89 L424.91 410.75 L426.4 411.61 L427.9 412.47 L429.4 413.33 L430.9 414.19 L432.39 415.05 L433.89 415.9 L435.39 416.75 L436.89 417.61 L438.38 418.46 L439.88 419.31 L441.38 420.16 L442.88 421 L444.37 421.85" stroke-width="1.7000000000000002"/>
</g>
<g fill="none" stroke="#ff0000" stroke-width="1.1" stroke-dasharray="2.9 1.9" stroke-linejoin="round">
<path d="M356.02 369.04 L357.52 369.74 L359.02 370.44 L360.51 371.14 L362.01 371.84 L363.51 372.54 L365.01 373.24 L366.5 373.93 L368 374.63 L369.5 375.33 L371 376.02 L372.49 376.72 L373.99 377.41 L375.49 378.1 L376.99 378.79 L378.48 379.48 L379.98 380.16 L381.48 380.84 L382.98 381.51 L384.47 382.18 L385.97 382.85 L387.47 383.5 L388.97 384.16 L390.46 384.8 L391.96 385.44 L393.46 386.07 L394.96 386.7 L396.45 387.31 L397.95 387.92 L399.45 388.52 L400.95 389.11 L402.44 389.69 L403.94 390.27 L405.44 390.83 L406.94 391.39 L408.43 391.93 L409.93 392.47 L411.43 393 L412.93 393.51 L414.42 394.02 L415.92 394.52 L417.42 395.01 L418.92 395.49 L420.41 395.96 L421.91 396.43 L423.41 396.88 L424.91 397.33 L426.4 397.77 L427.9 398.2 L429.4 398.62 L430.9 399.04 L432.39 399.45 L433.89 399.85 L435.39 400.25 L436.89 400.65 L438.38 401.04 L439.88 401.42 L441.38 401.81 L442.88 402.19 L444.37 402.57" stroke-width="1.9000000000000001"/>
</g>
<g fill="none" stroke="#0000ff" stroke-width="1.1" stroke-linejoin="round">
<path d="M356.02 367.63 L357.52 368.17 L359.02 368.72 L360.51 369.26 L362.01 369.8 L363.51 370.34 L365.01 370.88 L366.5 371.42 L368 371.96 L369.5 372.49 L371 373.02 L372.49 373.55 L373.99 374.08 L375.49 374.6 L376.99 375.12 L378.48 375.63 L379.98 376.14 L381.48 376.64 L382.98 377.13 L384.47 377.62 L385.97 378.1 L387.47 378.57 L388.97 379.03 L390.46 379.47 L391.96 379.91 L393.46 380.34 L394.96 380.75 L396.45 381.15 L397.95 381.55 L399.45 381.92 L400.95 382.29 L402.44 382.65 L403.94 382.99 L405.44 383.32 L406.94 383.64 L408.43 383.95 L409.93 384.25 L411.43 384.53 L412.93 384.8 L414.42 385.06 L415.92 385.31 L417.42 385.54 L418.92 385.77 L420.41 385.98 L421.91 386.17 L423.41 386.35 L424.91 386.53 L426.4 386.68 L427.9 386.83 L429.4 386.96 L430.9 387.08 L432.39 387.18 L433.89 387.28 L435.39 387.36 L436.89 387.43 L438.38 387.5 L439.88 387.55 L441.38 387.61 L442.88 387.66 L444.37 387.71" stroke-width="1.9000000000000001"/>
</g>
<path d="M352.3 362.7 H449.9 V437.4" fill="none" stroke="#808080" stroke-width="0.9"/>
<path d="M352.3 362.3 V437.4 H450.3" fill="none" stroke="#000" stroke-width="1.0"/>
<path d="M352.3 362.9h3M352.3 367.62h1.5M352.3 372.34h1.5M352.3 377.06h1.5M352.3 381.78h1.5M352.3 386.5h3M352.3 391.22h1.5M352.3 395.94h1.5M352.3 400.66h1.5M352.3 405.38h1.5M352.3 410.1h3M352.3 414.82h1.5M352.3 419.54h1.5M352.3 424.26h1.5M352.3 428.98h1.5M352.3 433.7h3M355.25 437.4v-1.2M360.88 437.4v-1.2M366.5 437.4v-2.4M372.12 437.4v-1.2M377.75 437.4v-1.2M383.38 437.4v-1.2M389 437.4v-2.4M394.62 437.4v-1.2M400.25 437.4v-1.2M405.88 437.4v-1.2M411.5 437.4v-2.4M417.12 437.4v-1.2M422.75 437.4v-1.2M428.38 437.4v-1.2M434 437.4v-2.4M439.62 437.4v-1.2M445.25 437.4v-1.2" stroke="#000" stroke-width="0.75" fill="none"/>
<text transform="translate(351 365.4) scale(1.285 1)" font-size="7.3" text-anchor="end" fill="#000">0</text>
<text transform="translate(351 389) scale(1.285 1)" font-size="7.3" text-anchor="end" fill="#000">-0.05</text>
<text transform="translate(351 412.6) scale(1.285 1)" font-size="7.3" text-anchor="end" fill="#000">-0.1</text>
<text transform="translate(351 436.2) scale(1.285 1)" font-size="7.3" text-anchor="end" fill="#000">-0.15</text>
<text transform="translate(366.5 448.7) scale(1.285 1)" font-size="7.3" text-anchor="middle" fill="#000">0.2</text>
<text transform="translate(389 448.7) scale(1.285 1)" font-size="7.3" text-anchor="middle" fill="#000">0.4</text>
<text transform="translate(411.5 448.7) scale(1.285 1)" font-size="7.3" text-anchor="middle" fill="#000">0.6</text>
<text transform="translate(434 448.7) scale(1.285 1)" font-size="7.3" text-anchor="middle" fill="#000">0.8</text>
<text transform="translate(357.3 434.5) scale(1.25 1)" font-size="8.6" text-anchor="start" fill="#ff0000">JLab <tspan font-family='"Liberation Serif", "DejaVu Serif", serif' font-size="11" dx="1.1">π</tspan><tspan dy="-4.8" dx="0.5" font-size="6.4">-</tspan></text>
</g>
<g transform="translate(31.7 399.8) scale(1.5 1) rotate(-90)" fill="#000" stroke="#000" stroke-width="0">
<text x="0" y="0" font-size="8.5" stroke-width="0.25">A</text>
<text x="6.3" y="2.2" font-size="5.6" stroke-width="0.15">LL</text>
<text x="6.4" y="-6.9" font-size="6.6">cos<tspan font-size="5.6" font-family='"Liberation Serif", "DejaVu Serif", serif' font-weight="normal" fill="#222">ϕ</tspan></text>
<text x="21.3" y="-4.7" font-size="3.6" stroke="none">h</text>
</g>
<path d="M83 212H93.6" stroke="#0000ff" stroke-width="1.05" fill="none"/>
<text transform="translate(95.6 212.6) scale(1.3 1)" font-family='"Liberation Serif", "DejaVu Serif", serif' font-weight="normal" font-size="8.4" fill="#555">μ</text>
<text transform="translate(102 211) scale(1.3 1)" font-size="3.7" text-anchor="start" fill="#333">2</text>
<text transform="translate(102 214.6) scale(1.3 1)" font-size="2.8" text-anchor="start" fill="#555">D</text>
<text transform="translate(107 212.8) scale(1.42 1)" font-size="6.0" text-anchor="start" fill="#000">=0.10</text>
<path d="M83 221.3H93.6" stroke="#ff0000" stroke-width="1.05" stroke-dasharray="2.6 1.6" fill="none"/>
<text transform="translate(95.6 221.9) scale(1.3 1)" font-family='"Liberation Serif", "DejaVu Serif", serif' font-weight="normal" font-size="8.4" fill="#555">μ</text>
<text transform="translate(102 220.3) scale(1.3 1)" font-size="3.7" text-anchor="start" fill="#333">2</text>
<text transform="translate(102 223.9) scale(1.3 1)" font-size="2.8" text-anchor="start" fill="#555">D</text>
<text transform="translate(107 222.1) scale(1.42 1)" font-size="6.0" text-anchor="start" fill="#000">=0.17</text>
<path d="M83 230.5H93.6" stroke="#ff00ff" stroke-width="1.05" stroke-dasharray="4.6 1.6 1.3 1.6" fill="none"/>
<text transform="translate(95.6 231.1) scale(1.3 1)" font-family='"Liberation Serif", "DejaVu Serif", serif' font-weight="normal" font-size="8.4" fill="#555">μ</text>
<text transform="translate(102 229.5) scale(1.3 1)" font-size="3.7" text-anchor="start" fill="#333">2</text>
<text transform="translate(102 233.1) scale(1.3 1)" font-size="2.8" text-anchor="start" fill="#555">D</text>
<text transform="translate(107 231.3) scale(1.42 1)" font-size="6.0" text-anchor="start" fill="#000">=0.25</text>
<text transform="translate(172.8 458.1) scale(1.3 1)" font-size="8.1" text-anchor="end" fill="#000">P<tspan dy="1.7" font-size="6.7">hT</tspan><tspan dy="-1.7"> (GeV/c)</tspan></text>
<text transform="translate(310.9 458.1) scale(1.3 1)" font-size="8.1" text-anchor="end" fill="#000">P<tspan dy="1.7" font-size="6.7">hT</tspan><tspan dy="-1.7"> (GeV/c)</tspan></text>
<text transform="translate(450.1 458.1) scale(1.3 1)" font-size="8.1" text-anchor="end" fill="#000">P<tspan dy="1.7" font-size="6.7">hT</tspan><tspan dy="-1.7"> (GeV/c)</tspan></text>
</svg>
</body>
</html>
